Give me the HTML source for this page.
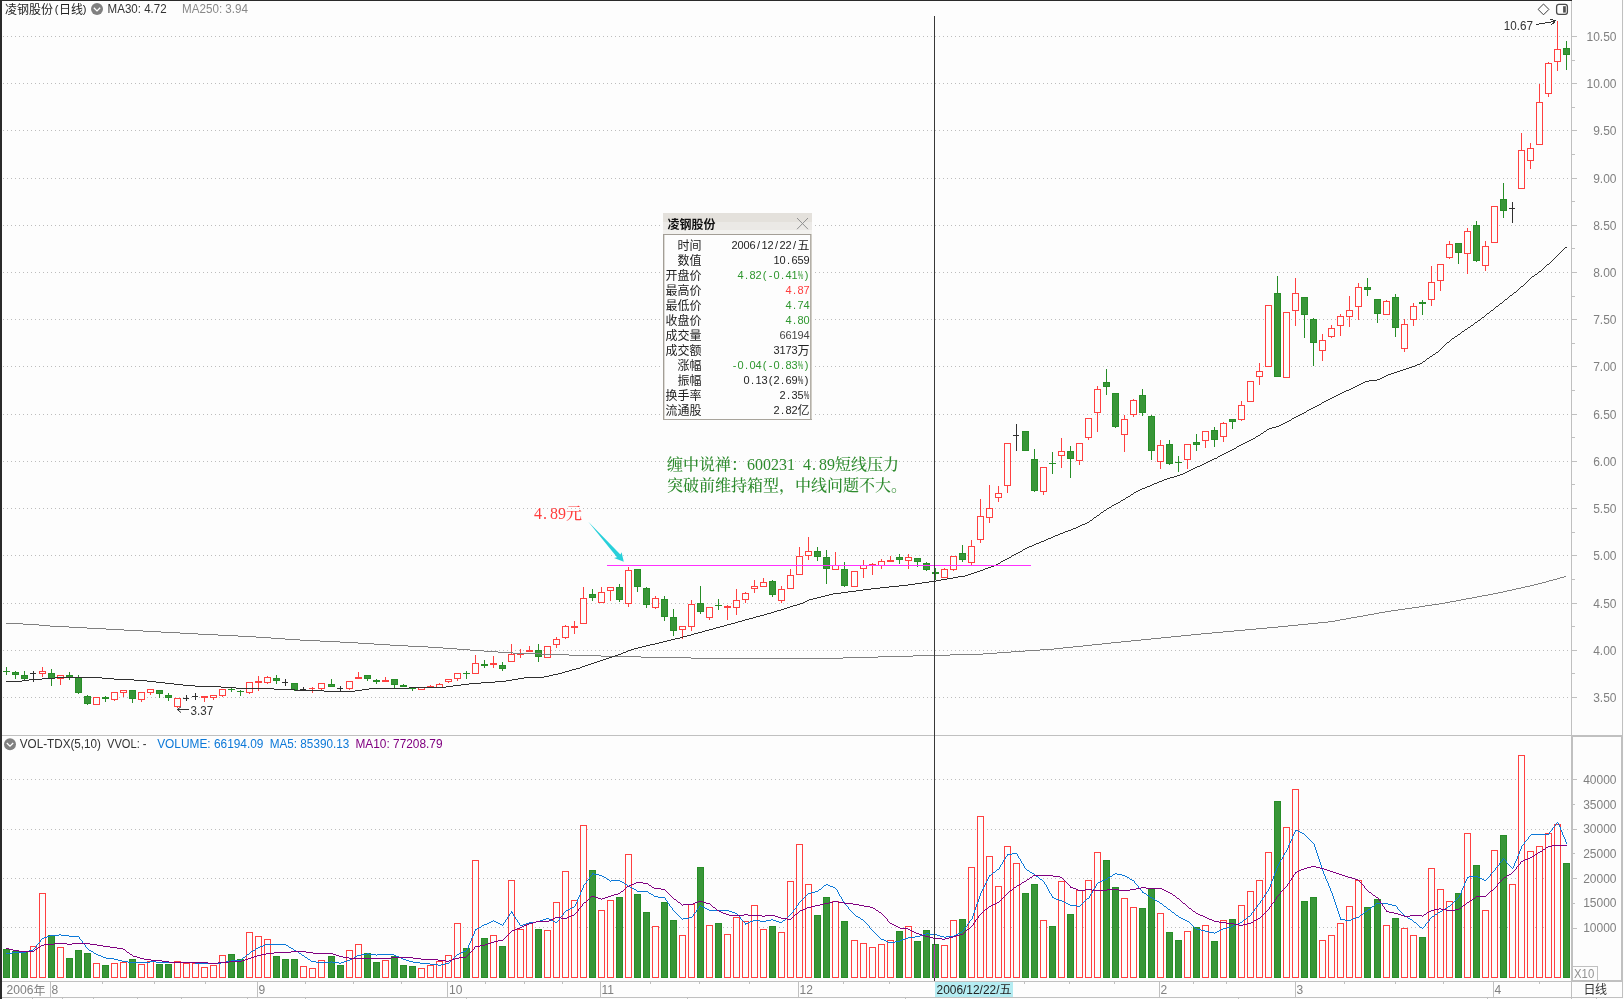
<!DOCTYPE html>
<html lang="zh"><head><meta charset="utf-8"><title>凌钢股份(日线)</title>
<style>html,body{margin:0;padding:0;background:#fdfdfd;overflow:hidden}svg{display:block;will-change:transform}</style></head>
<body>
<svg width="1624" height="999" viewBox="0 0 1624 999" style="display:block">
<rect width="1624" height="999" fill="#fdfdfd"/>
<g shape-rendering="crispEdges">
<g stroke="#bdbdbd" stroke-width="1" stroke-dasharray="1 3">
<line x1="3" x2="1571" y1="697.5" y2="697.5"/>
<line x1="3" x2="1571" y1="650.5" y2="650.5"/>
<line x1="3" x2="1571" y1="603.5" y2="603.5"/>
<line x1="3" x2="1571" y1="555.5" y2="555.5"/>
<line x1="3" x2="1571" y1="508.5" y2="508.5"/>
<line x1="3" x2="1571" y1="461.5" y2="461.5"/>
<line x1="3" x2="1571" y1="414.5" y2="414.5"/>
<line x1="3" x2="1571" y1="366.5" y2="366.5"/>
<line x1="3" x2="1571" y1="319.5" y2="319.5"/>
<line x1="3" x2="1571" y1="272.5" y2="272.5"/>
<line x1="3" x2="1571" y1="225.5" y2="225.5"/>
<line x1="3" x2="1571" y1="178.5" y2="178.5"/>
<line x1="3" x2="1571" y1="130.5" y2="130.5"/>
<line x1="3" x2="1571" y1="83.5" y2="83.5"/>
<line x1="3" x2="1571" y1="36.5" y2="36.5"/>
<line x1="3" x2="1571" y1="779.5" y2="779.5"/>
<line x1="3" x2="1571" y1="829.5" y2="829.5"/>
<line x1="3" x2="1571" y1="878.5" y2="878.5"/>
<line x1="3" x2="1571" y1="927.5" y2="927.5"/>
</g>
<g fill="#c0c0c0">
<rect x="1571" y="1" width="1" height="735"/>
<rect x="1571" y="735" width="2" height="247"/>
<rect x="2" y="735" width="1570" height="1"/>
<rect x="1572" y="735" width="51" height="2"/>
<rect x="1622" y="0" width="1" height="735"/>
<rect x="1621" y="735" width="2" height="247"/>
<rect x="2" y="981" width="1621" height="1"/>
<rect x="1571" y="980" width="52" height="1"/>
<rect x="2" y="997" width="1621" height="1"/>
<rect x="1622" y="982" width="1" height="16"/>
<rect x="1572" y="697" width="5" height="1"/>
<rect x="1572" y="673" width="3" height="1"/>
<rect x="1572" y="650" width="5" height="1"/>
<rect x="1572" y="626" width="3" height="1"/>
<rect x="1572" y="603" width="5" height="1"/>
<rect x="1572" y="579" width="3" height="1"/>
<rect x="1572" y="555" width="5" height="1"/>
<rect x="1572" y="532" width="3" height="1"/>
<rect x="1572" y="508" width="5" height="1"/>
<rect x="1572" y="484" width="3" height="1"/>
<rect x="1572" y="461" width="5" height="1"/>
<rect x="1572" y="437" width="3" height="1"/>
<rect x="1572" y="414" width="5" height="1"/>
<rect x="1572" y="390" width="3" height="1"/>
<rect x="1572" y="366" width="5" height="1"/>
<rect x="1572" y="343" width="3" height="1"/>
<rect x="1572" y="319" width="5" height="1"/>
<rect x="1572" y="296" width="3" height="1"/>
<rect x="1572" y="272" width="5" height="1"/>
<rect x="1572" y="248" width="3" height="1"/>
<rect x="1572" y="225" width="5" height="1"/>
<rect x="1572" y="201" width="3" height="1"/>
<rect x="1572" y="178" width="5" height="1"/>
<rect x="1572" y="154" width="3" height="1"/>
<rect x="1572" y="130" width="5" height="1"/>
<rect x="1572" y="107" width="3" height="1"/>
<rect x="1572" y="83" width="5" height="1"/>
<rect x="1572" y="60" width="3" height="1"/>
<rect x="1572" y="36" width="5" height="1"/>
<rect x="1573" y="928" width="4" height="1"/>
<rect x="1573" y="903" width="2" height="1"/>
<rect x="1573" y="878" width="4" height="1"/>
<rect x="1573" y="853" width="2" height="1"/>
<rect x="1573" y="829" width="4" height="1"/>
<rect x="1573" y="804" width="2" height="1"/>
<rect x="1573" y="779" width="4" height="1"/>
</g>
<rect x="0" y="0" width="1572" height="1" fill="#2a2a2a"/>
<rect x="0" y="0" width="2" height="999" fill="#2a2a2a"/>
</g>
<g font-family="'Liberation Sans', sans-serif" font-size="12" fill="#808080" text-anchor="end">
<text x="1616.5" y="701.8">3.50</text>
<text x="1616.5" y="654.8">4.00</text>
<text x="1616.5" y="607.8">4.50</text>
<text x="1616.5" y="559.8">5.00</text>
<text x="1616.5" y="512.8">5.50</text>
<text x="1616.5" y="465.8">6.00</text>
<text x="1616.5" y="418.8">6.50</text>
<text x="1616.5" y="370.8">7.00</text>
<text x="1616.5" y="323.8">7.50</text>
<text x="1616.5" y="276.8">8.00</text>
<text x="1616.5" y="229.8">8.50</text>
<text x="1616.5" y="182.8">9.00</text>
<text x="1616.5" y="134.8">9.50</text>
<text x="1616.5" y="87.8">10.00</text>
<text x="1616.5" y="40.8">10.50</text>
<text x="1616.5" y="932.2">10000</text>
<text x="1616.5" y="907.4">15000</text>
<text x="1616.5" y="882.7">20000</text>
<text x="1616.5" y="858.0">25000</text>
<text x="1616.5" y="833.3">30000</text>
<text x="1616.5" y="808.6">35000</text>
<text x="1616.5" y="783.8">40000</text>
</g>
<g shape-rendering="crispEdges">
<rect x="6" y="667" width="1" height="8" fill="#278d27"/>
<rect x="3" y="671" width="7" height="1" fill="#278d27"/>
<rect x="15" y="671" width="1" height="8" fill="#278d27"/>
<rect x="12.5" y="672.5" width="6" height="2" fill="#389638" stroke="#278d27" stroke-width="1"/>
<rect x="24" y="671" width="1" height="9" fill="#278d27"/>
<rect x="21.5" y="675.5" width="6" height="3" fill="#389638" stroke="#278d27" stroke-width="1"/>
<rect x="33" y="671" width="1" height="11" fill="#303030"/>
<rect x="30" y="673" width="6" height="1" fill="#303030"/>
<rect x="42" y="667" width="1" height="4" fill="#ff4040"/>
<rect x="42" y="674" width="1" height="3" fill="#ff4040"/>
<rect x="39.5" y="671.5" width="6" height="2" fill="#fdfdfd" stroke="#ff4040" stroke-width="1"/>
<rect x="51" y="669" width="1" height="17" fill="#278d27"/>
<rect x="48.5" y="673.5" width="6" height="5" fill="#389638" stroke="#278d27" stroke-width="1"/>
<rect x="60" y="679" width="1" height="6" fill="#ff4040"/>
<rect x="57.5" y="675.5" width="6" height="3" fill="#fdfdfd" stroke="#ff4040" stroke-width="1"/>
<rect x="69" y="672" width="1" height="8" fill="#278d27"/>
<rect x="66.5" y="675.5" width="6" height="2" fill="#389638" stroke="#278d27" stroke-width="1"/>
<rect x="78" y="675" width="1" height="19" fill="#278d27"/>
<rect x="75.5" y="677.5" width="6" height="15" fill="#389638" stroke="#278d27" stroke-width="1"/>
<rect x="87" y="695" width="1" height="10" fill="#278d27"/>
<rect x="84.5" y="696.5" width="6" height="7" fill="#389638" stroke="#278d27" stroke-width="1"/>
<rect x="93.5" y="697.5" width="6" height="7" fill="#fdfdfd" stroke="#ff4040" stroke-width="1"/>
<rect x="105" y="696" width="1" height="6" fill="#278d27"/>
<rect x="102" y="697" width="7" height="2" fill="#278d27"/>
<rect x="114" y="700" width="1" height="1" fill="#ff4040"/>
<rect x="111.5" y="692.5" width="6" height="7" fill="#fdfdfd" stroke="#ff4040" stroke-width="1"/>
<rect x="123" y="693" width="1" height="4" fill="#ff4040"/>
<rect x="120.5" y="690.5" width="6" height="2" fill="#fdfdfd" stroke="#ff4040" stroke-width="1"/>
<rect x="132" y="690" width="1" height="13" fill="#278d27"/>
<rect x="129.5" y="690.5" width="6" height="8" fill="#389638" stroke="#278d27" stroke-width="1"/>
<rect x="141" y="700" width="1" height="2" fill="#ff4040"/>
<rect x="138.5" y="692.5" width="6" height="7" fill="#fdfdfd" stroke="#ff4040" stroke-width="1"/>
<rect x="150" y="693" width="1" height="2" fill="#ff4040"/>
<rect x="147.5" y="689.5" width="6" height="3" fill="#fdfdfd" stroke="#ff4040" stroke-width="1"/>
<rect x="159" y="690" width="1" height="8" fill="#278d27"/>
<rect x="156.5" y="690.5" width="6" height="3" fill="#389638" stroke="#278d27" stroke-width="1"/>
<rect x="168" y="693" width="1" height="8" fill="#278d27"/>
<rect x="165.5" y="695.5" width="6" height="2" fill="#389638" stroke="#278d27" stroke-width="1"/>
<rect x="177" y="707" width="1" height="1" fill="#ff4040"/>
<rect x="174.5" y="698.5" width="6" height="8" fill="#fdfdfd" stroke="#ff4040" stroke-width="1"/>
<rect x="186" y="695" width="1" height="6" fill="#303030"/>
<rect x="183" y="698" width="6" height="1" fill="#303030"/>
<rect x="195" y="693" width="1" height="7" fill="#303030"/>
<rect x="192" y="696" width="6" height="1" fill="#303030"/>
<rect x="204" y="698" width="1" height="4" fill="#ff4040"/>
<rect x="201" y="696" width="7" height="2" fill="#ff4040"/>
<rect x="213" y="698" width="1" height="2" fill="#ff4040"/>
<rect x="210.5" y="695.5" width="6" height="2" fill="#fdfdfd" stroke="#ff4040" stroke-width="1"/>
<rect x="222" y="696" width="1" height="1" fill="#ff4040"/>
<rect x="219.5" y="689.5" width="6" height="6" fill="#fdfdfd" stroke="#ff4040" stroke-width="1"/>
<rect x="231" y="687" width="1" height="5" fill="#278d27"/>
<rect x="228" y="689" width="7" height="1" fill="#278d27"/>
<rect x="240" y="690" width="1" height="6" fill="#278d27"/>
<rect x="237" y="691" width="7" height="1" fill="#278d27"/>
<rect x="249" y="693" width="1" height="1" fill="#ff4040"/>
<rect x="246.5" y="682.5" width="6" height="10" fill="#fdfdfd" stroke="#ff4040" stroke-width="1"/>
<rect x="258" y="676" width="1" height="5" fill="#ff4040"/>
<rect x="258" y="683" width="1" height="8" fill="#ff4040"/>
<rect x="255" y="681" width="7" height="2" fill="#ff4040"/>
<rect x="267" y="676" width="1" height="1" fill="#ff4040"/>
<rect x="267" y="683" width="1" height="1" fill="#ff4040"/>
<rect x="264.5" y="677.5" width="6" height="5" fill="#fdfdfd" stroke="#ff4040" stroke-width="1"/>
<rect x="276" y="675" width="1" height="9" fill="#278d27"/>
<rect x="273.5" y="678.5" width="6" height="2" fill="#389638" stroke="#278d27" stroke-width="1"/>
<rect x="285" y="679" width="1" height="7" fill="#303030"/>
<rect x="282" y="682" width="6" height="1" fill="#303030"/>
<rect x="294" y="683" width="1" height="8" fill="#278d27"/>
<rect x="291.5" y="683.5" width="6" height="6" fill="#389638" stroke="#278d27" stroke-width="1"/>
<rect x="303" y="687" width="1" height="3" fill="#303030"/>
<rect x="300" y="689" width="6" height="1" fill="#303030"/>
<rect x="312" y="687" width="1" height="6" fill="#ff4040"/>
<rect x="309" y="688" width="6" height="1" fill="#ff4040"/>
<rect x="321" y="689" width="1" height="1" fill="#ff4040"/>
<rect x="318.5" y="683.5" width="6" height="5" fill="#fdfdfd" stroke="#ff4040" stroke-width="1"/>
<rect x="331" y="679" width="1" height="8" fill="#278d27"/>
<rect x="328.5" y="684.5" width="6" height="2" fill="#389638" stroke="#278d27" stroke-width="1"/>
<rect x="340" y="686" width="1" height="6" fill="#303030"/>
<rect x="337" y="688" width="6" height="1" fill="#303030"/>
<rect x="349" y="689" width="1" height="1" fill="#ff4040"/>
<rect x="346.5" y="681.5" width="6" height="7" fill="#fdfdfd" stroke="#ff4040" stroke-width="1"/>
<rect x="358" y="672" width="1" height="5" fill="#ff4040"/>
<rect x="355" y="677" width="7" height="2" fill="#ff4040"/>
<rect x="367" y="675" width="1" height="6" fill="#278d27"/>
<rect x="364.5" y="675.5" width="6" height="3" fill="#389638" stroke="#278d27" stroke-width="1"/>
<rect x="376" y="679" width="1" height="5" fill="#278d27"/>
<rect x="373" y="680" width="7" height="2" fill="#278d27"/>
<rect x="385" y="677" width="1" height="3" fill="#ff4040"/>
<rect x="382" y="680" width="7" height="2" fill="#ff4040"/>
<rect x="394" y="679" width="1" height="9" fill="#278d27"/>
<rect x="391.5" y="679.5" width="6" height="5" fill="#389638" stroke="#278d27" stroke-width="1"/>
<rect x="403" y="684" width="1" height="3" fill="#278d27"/>
<rect x="400" y="685" width="7" height="2" fill="#278d27"/>
<rect x="412" y="687" width="1" height="4" fill="#278d27"/>
<rect x="409" y="687" width="7" height="2" fill="#278d27"/>
<rect x="418.5" y="687.5" width="6" height="2" fill="#fdfdfd" stroke="#ff4040" stroke-width="1"/>
<rect x="430" y="685" width="1" height="1" fill="#ff4040"/>
<rect x="427" y="686" width="7" height="2" fill="#ff4040"/>
<rect x="439" y="683" width="1" height="1" fill="#ff4040"/>
<rect x="436.5" y="684.5" width="6" height="3" fill="#fdfdfd" stroke="#ff4040" stroke-width="1"/>
<rect x="448" y="682" width="1" height="1" fill="#ff4040"/>
<rect x="445.5" y="679.5" width="6" height="2" fill="#fdfdfd" stroke="#ff4040" stroke-width="1"/>
<rect x="457" y="679" width="1" height="2" fill="#ff4040"/>
<rect x="454.5" y="673.5" width="6" height="5" fill="#fdfdfd" stroke="#ff4040" stroke-width="1"/>
<rect x="466" y="671" width="1" height="8" fill="#278d27"/>
<rect x="463" y="673" width="7" height="1" fill="#278d27"/>
<rect x="475" y="655" width="1" height="8" fill="#ff4040"/>
<rect x="472.5" y="663.5" width="6" height="10" fill="#fdfdfd" stroke="#ff4040" stroke-width="1"/>
<rect x="484" y="660" width="1" height="8" fill="#278d27"/>
<rect x="481" y="664" width="7" height="2" fill="#278d27"/>
<rect x="493" y="656" width="1" height="7" fill="#ff4040"/>
<rect x="493" y="665" width="1" height="3" fill="#ff4040"/>
<rect x="490" y="663" width="7" height="2" fill="#ff4040"/>
<rect x="502" y="662" width="1" height="9" fill="#278d27"/>
<rect x="499.5" y="665.5" width="6" height="3" fill="#389638" stroke="#278d27" stroke-width="1"/>
<rect x="511" y="644" width="1" height="10" fill="#ff4040"/>
<rect x="508.5" y="654.5" width="6" height="7" fill="#fdfdfd" stroke="#ff4040" stroke-width="1"/>
<rect x="520" y="649" width="1" height="4" fill="#ff4040"/>
<rect x="520" y="655" width="1" height="3" fill="#ff4040"/>
<rect x="517" y="653" width="7" height="2" fill="#ff4040"/>
<rect x="529" y="646" width="1" height="4" fill="#ff4040"/>
<rect x="526" y="650" width="7" height="2" fill="#ff4040"/>
<rect x="538" y="644" width="1" height="18" fill="#278d27"/>
<rect x="535.5" y="650.5" width="6" height="6" fill="#389638" stroke="#278d27" stroke-width="1"/>
<rect x="544.5" y="646.5" width="6" height="11" fill="#fdfdfd" stroke="#ff4040" stroke-width="1"/>
<rect x="556" y="637" width="1" height="2" fill="#ff4040"/>
<rect x="556" y="645" width="1" height="3" fill="#ff4040"/>
<rect x="553.5" y="639.5" width="6" height="5" fill="#fdfdfd" stroke="#ff4040" stroke-width="1"/>
<rect x="565" y="625" width="1" height="1" fill="#ff4040"/>
<rect x="565" y="638" width="1" height="1" fill="#ff4040"/>
<rect x="562.5" y="626.5" width="6" height="11" fill="#fdfdfd" stroke="#ff4040" stroke-width="1"/>
<rect x="574" y="621" width="1" height="5" fill="#ff4040"/>
<rect x="574" y="628" width="1" height="6" fill="#ff4040"/>
<rect x="571" y="626" width="7" height="2" fill="#ff4040"/>
<rect x="583" y="587" width="1" height="11" fill="#ff4040"/>
<rect x="580.5" y="598.5" width="6" height="25" fill="#fdfdfd" stroke="#ff4040" stroke-width="1"/>
<rect x="592" y="589" width="1" height="12" fill="#278d27"/>
<rect x="589.5" y="594.5" width="6" height="3" fill="#389638" stroke="#278d27" stroke-width="1"/>
<rect x="601" y="587" width="1" height="5" fill="#ff4040"/>
<rect x="598.5" y="592.5" width="6" height="10" fill="#fdfdfd" stroke="#ff4040" stroke-width="1"/>
<rect x="610" y="591" width="1" height="10" fill="#ff4040"/>
<rect x="607.5" y="587.5" width="6" height="3" fill="#fdfdfd" stroke="#ff4040" stroke-width="1"/>
<rect x="619" y="584" width="1" height="18" fill="#278d27"/>
<rect x="616.5" y="587.5" width="6" height="12" fill="#389638" stroke="#278d27" stroke-width="1"/>
<rect x="628" y="567" width="1" height="3" fill="#ff4040"/>
<rect x="628" y="604" width="1" height="3" fill="#ff4040"/>
<rect x="625.5" y="570.5" width="6" height="33" fill="#fdfdfd" stroke="#ff4040" stroke-width="1"/>
<rect x="637" y="569" width="1" height="23" fill="#278d27"/>
<rect x="634.5" y="569.5" width="6" height="17" fill="#389638" stroke="#278d27" stroke-width="1"/>
<rect x="646" y="587" width="1" height="21" fill="#278d27"/>
<rect x="643.5" y="588.5" width="6" height="16" fill="#389638" stroke="#278d27" stroke-width="1"/>
<rect x="655" y="596" width="1" height="2" fill="#ff4040"/>
<rect x="655" y="608" width="1" height="1" fill="#ff4040"/>
<rect x="652.5" y="598.5" width="6" height="9" fill="#fdfdfd" stroke="#ff4040" stroke-width="1"/>
<rect x="664" y="596" width="1" height="25" fill="#278d27"/>
<rect x="661.5" y="599.5" width="6" height="17" fill="#389638" stroke="#278d27" stroke-width="1"/>
<rect x="673" y="609" width="1" height="27" fill="#278d27"/>
<rect x="670.5" y="617.5" width="6" height="13" fill="#389638" stroke="#278d27" stroke-width="1"/>
<rect x="682" y="630" width="1" height="9" fill="#ff4040"/>
<rect x="679.5" y="626.5" width="6" height="3" fill="#fdfdfd" stroke="#ff4040" stroke-width="1"/>
<rect x="691" y="600" width="1" height="4" fill="#ff4040"/>
<rect x="691" y="627" width="1" height="4" fill="#ff4040"/>
<rect x="688.5" y="604.5" width="6" height="22" fill="#fdfdfd" stroke="#ff4040" stroke-width="1"/>
<rect x="700" y="586" width="1" height="28" fill="#278d27"/>
<rect x="697.5" y="603.5" width="6" height="8" fill="#389638" stroke="#278d27" stroke-width="1"/>
<rect x="709" y="618" width="1" height="2" fill="#ff4040"/>
<rect x="706.5" y="607.5" width="6" height="10" fill="#fdfdfd" stroke="#ff4040" stroke-width="1"/>
<rect x="718" y="599" width="1" height="11" fill="#278d27"/>
<rect x="715" y="605" width="7" height="1" fill="#278d27"/>
<rect x="727" y="605" width="1" height="1" fill="#ff4040"/>
<rect x="727" y="608" width="1" height="12" fill="#ff4040"/>
<rect x="724" y="606" width="7" height="2" fill="#ff4040"/>
<rect x="736" y="589" width="1" height="11" fill="#ff4040"/>
<rect x="736" y="608" width="1" height="7" fill="#ff4040"/>
<rect x="733.5" y="600.5" width="6" height="7" fill="#fdfdfd" stroke="#ff4040" stroke-width="1"/>
<rect x="745" y="592" width="1" height="1" fill="#ff4040"/>
<rect x="745" y="600" width="1" height="3" fill="#ff4040"/>
<rect x="742.5" y="593.5" width="6" height="6" fill="#fdfdfd" stroke="#ff4040" stroke-width="1"/>
<rect x="754" y="580" width="1" height="6" fill="#ff4040"/>
<rect x="754" y="589" width="1" height="4" fill="#ff4040"/>
<rect x="751.5" y="586.5" width="6" height="2" fill="#fdfdfd" stroke="#ff4040" stroke-width="1"/>
<rect x="763" y="578" width="1" height="4" fill="#ff4040"/>
<rect x="760.5" y="582.5" width="6" height="4" fill="#fdfdfd" stroke="#ff4040" stroke-width="1"/>
<rect x="772" y="580" width="1" height="17" fill="#278d27"/>
<rect x="769.5" y="581.5" width="6" height="13" fill="#389638" stroke="#278d27" stroke-width="1"/>
<rect x="781" y="586" width="1" height="3" fill="#ff4040"/>
<rect x="781" y="601" width="1" height="2" fill="#ff4040"/>
<rect x="778.5" y="589.5" width="6" height="11" fill="#fdfdfd" stroke="#ff4040" stroke-width="1"/>
<rect x="790" y="569" width="1" height="6" fill="#ff4040"/>
<rect x="787.5" y="575.5" width="6" height="13" fill="#fdfdfd" stroke="#ff4040" stroke-width="1"/>
<rect x="799" y="547" width="1" height="9" fill="#ff4040"/>
<rect x="796.5" y="556.5" width="6" height="18" fill="#fdfdfd" stroke="#ff4040" stroke-width="1"/>
<rect x="808" y="537" width="1" height="14" fill="#ff4040"/>
<rect x="808" y="556" width="1" height="4" fill="#ff4040"/>
<rect x="805.5" y="551.5" width="6" height="4" fill="#fdfdfd" stroke="#ff4040" stroke-width="1"/>
<rect x="817" y="547" width="1" height="14" fill="#278d27"/>
<rect x="814.5" y="551.5" width="6" height="5" fill="#389638" stroke="#278d27" stroke-width="1"/>
<rect x="826" y="550" width="1" height="34" fill="#278d27"/>
<rect x="823.5" y="557.5" width="6" height="11" fill="#389638" stroke="#278d27" stroke-width="1"/>
<rect x="835" y="552" width="1" height="13" fill="#ff4040"/>
<rect x="832.5" y="565.5" width="6" height="4" fill="#fdfdfd" stroke="#ff4040" stroke-width="1"/>
<rect x="844" y="562" width="1" height="25" fill="#278d27"/>
<rect x="841.5" y="569.5" width="6" height="16" fill="#389638" stroke="#278d27" stroke-width="1"/>
<rect x="851.5" y="571.5" width="6" height="15" fill="#fdfdfd" stroke="#ff4040" stroke-width="1"/>
<rect x="863" y="560" width="1" height="5" fill="#ff4040"/>
<rect x="863" y="569" width="1" height="9" fill="#ff4040"/>
<rect x="860.5" y="565.5" width="6" height="3" fill="#fdfdfd" stroke="#ff4040" stroke-width="1"/>
<rect x="872" y="563" width="1" height="1" fill="#ff4040"/>
<rect x="872" y="566" width="1" height="9" fill="#ff4040"/>
<rect x="869" y="564" width="7" height="2" fill="#ff4040"/>
<rect x="881" y="559" width="1" height="2" fill="#ff4040"/>
<rect x="881" y="566" width="1" height="3" fill="#ff4040"/>
<rect x="878.5" y="561.5" width="6" height="4" fill="#fdfdfd" stroke="#ff4040" stroke-width="1"/>
<rect x="890" y="556" width="1" height="4" fill="#ff4040"/>
<rect x="887" y="560" width="7" height="2" fill="#ff4040"/>
<rect x="899" y="554" width="1" height="10" fill="#278d27"/>
<rect x="896.5" y="557.5" width="6" height="2" fill="#389638" stroke="#278d27" stroke-width="1"/>
<rect x="908" y="554" width="1" height="3" fill="#ff4040"/>
<rect x="908" y="561" width="1" height="8" fill="#ff4040"/>
<rect x="905.5" y="557.5" width="6" height="3" fill="#fdfdfd" stroke="#ff4040" stroke-width="1"/>
<rect x="917" y="558" width="1" height="9" fill="#278d27"/>
<rect x="914.5" y="558.5" width="6" height="3" fill="#389638" stroke="#278d27" stroke-width="1"/>
<rect x="926" y="562" width="1" height="9" fill="#278d27"/>
<rect x="923.5" y="563.5" width="6" height="6" fill="#389638" stroke="#278d27" stroke-width="1"/>
<rect x="935" y="568" width="1" height="12" fill="#278d27"/>
<rect x="932" y="572" width="7" height="2" fill="#278d27"/>
<rect x="944" y="568" width="1" height="1" fill="#ff4040"/>
<rect x="941.5" y="569.5" width="6" height="8" fill="#fdfdfd" stroke="#ff4040" stroke-width="1"/>
<rect x="953" y="570" width="1" height="1" fill="#ff4040"/>
<rect x="950.5" y="556.5" width="6" height="13" fill="#fdfdfd" stroke="#ff4040" stroke-width="1"/>
<rect x="962" y="545" width="1" height="17" fill="#278d27"/>
<rect x="959.5" y="553.5" width="6" height="6" fill="#389638" stroke="#278d27" stroke-width="1"/>
<rect x="971" y="540" width="1" height="6" fill="#ff4040"/>
<rect x="971" y="563" width="1" height="2" fill="#ff4040"/>
<rect x="968.5" y="546.5" width="6" height="16" fill="#fdfdfd" stroke="#ff4040" stroke-width="1"/>
<rect x="980" y="499" width="1" height="17" fill="#ff4040"/>
<rect x="980" y="540" width="1" height="3" fill="#ff4040"/>
<rect x="977.5" y="516.5" width="6" height="23" fill="#fdfdfd" stroke="#ff4040" stroke-width="1"/>
<rect x="989" y="485" width="1" height="23" fill="#ff4040"/>
<rect x="989" y="518" width="1" height="5" fill="#ff4040"/>
<rect x="986.5" y="508.5" width="6" height="9" fill="#fdfdfd" stroke="#ff4040" stroke-width="1"/>
<rect x="998" y="486" width="1" height="7" fill="#ff4040"/>
<rect x="998" y="498" width="1" height="4" fill="#ff4040"/>
<rect x="995.5" y="493.5" width="6" height="4" fill="#fdfdfd" stroke="#ff4040" stroke-width="1"/>
<rect x="1007" y="486" width="1" height="7" fill="#ff4040"/>
<rect x="1004.5" y="443.5" width="6" height="42" fill="#fdfdfd" stroke="#ff4040" stroke-width="1"/>
<rect x="1016" y="424" width="1" height="27" fill="#303030"/>
<rect x="1013" y="435" width="6" height="1" fill="#303030"/>
<rect x="1025" y="431" width="1" height="20" fill="#278d27"/>
<rect x="1022.5" y="431.5" width="6" height="19" fill="#389638" stroke="#278d27" stroke-width="1"/>
<rect x="1034" y="449" width="1" height="43" fill="#278d27"/>
<rect x="1031.5" y="459.5" width="6" height="31" fill="#389638" stroke="#278d27" stroke-width="1"/>
<rect x="1043" y="492" width="1" height="3" fill="#ff4040"/>
<rect x="1040.5" y="467.5" width="6" height="24" fill="#fdfdfd" stroke="#ff4040" stroke-width="1"/>
<rect x="1052" y="452" width="1" height="22" fill="#278d27"/>
<rect x="1049" y="463" width="7" height="1" fill="#278d27"/>
<rect x="1061" y="438" width="1" height="13" fill="#ff4040"/>
<rect x="1061" y="456" width="1" height="12" fill="#ff4040"/>
<rect x="1058.5" y="451.5" width="6" height="4" fill="#fdfdfd" stroke="#ff4040" stroke-width="1"/>
<rect x="1070" y="446" width="1" height="32" fill="#278d27"/>
<rect x="1067.5" y="451.5" width="6" height="7" fill="#389638" stroke="#278d27" stroke-width="1"/>
<rect x="1079" y="461" width="1" height="4" fill="#ff4040"/>
<rect x="1076.5" y="443.5" width="6" height="17" fill="#fdfdfd" stroke="#ff4040" stroke-width="1"/>
<rect x="1088" y="438" width="1" height="2" fill="#ff4040"/>
<rect x="1085.5" y="418.5" width="6" height="19" fill="#fdfdfd" stroke="#ff4040" stroke-width="1"/>
<rect x="1097" y="386" width="1" height="3" fill="#ff4040"/>
<rect x="1097" y="413" width="1" height="19" fill="#ff4040"/>
<rect x="1094.5" y="389.5" width="6" height="23" fill="#fdfdfd" stroke="#ff4040" stroke-width="1"/>
<rect x="1106" y="369" width="1" height="26" fill="#278d27"/>
<rect x="1103.5" y="382.5" width="6" height="4" fill="#389638" stroke="#278d27" stroke-width="1"/>
<rect x="1115" y="393" width="1" height="35" fill="#278d27"/>
<rect x="1112.5" y="393.5" width="6" height="33" fill="#389638" stroke="#278d27" stroke-width="1"/>
<rect x="1124" y="415" width="1" height="4" fill="#ff4040"/>
<rect x="1124" y="435" width="1" height="17" fill="#ff4040"/>
<rect x="1121.5" y="419.5" width="6" height="15" fill="#fdfdfd" stroke="#ff4040" stroke-width="1"/>
<rect x="1133" y="399" width="1" height="1" fill="#ff4040"/>
<rect x="1133" y="415" width="1" height="2" fill="#ff4040"/>
<rect x="1130.5" y="400.5" width="6" height="14" fill="#fdfdfd" stroke="#ff4040" stroke-width="1"/>
<rect x="1142" y="389" width="1" height="27" fill="#278d27"/>
<rect x="1139.5" y="395.5" width="6" height="17" fill="#389638" stroke="#278d27" stroke-width="1"/>
<rect x="1151" y="415" width="1" height="45" fill="#278d27"/>
<rect x="1148.5" y="416.5" width="6" height="34" fill="#389638" stroke="#278d27" stroke-width="1"/>
<rect x="1160" y="440" width="1" height="5" fill="#ff4040"/>
<rect x="1160" y="462" width="1" height="7" fill="#ff4040"/>
<rect x="1157.5" y="445.5" width="6" height="16" fill="#fdfdfd" stroke="#ff4040" stroke-width="1"/>
<rect x="1169" y="440" width="1" height="25" fill="#278d27"/>
<rect x="1166.5" y="444.5" width="6" height="19" fill="#389638" stroke="#278d27" stroke-width="1"/>
<rect x="1178" y="456" width="1" height="16" fill="#278d27"/>
<rect x="1175" y="462" width="7" height="1" fill="#278d27"/>
<rect x="1187" y="460" width="1" height="9" fill="#ff4040"/>
<rect x="1184.5" y="444.5" width="6" height="15" fill="#fdfdfd" stroke="#ff4040" stroke-width="1"/>
<rect x="1196" y="434" width="1" height="17" fill="#278d27"/>
<rect x="1193.5" y="442.5" width="6" height="2" fill="#389638" stroke="#278d27" stroke-width="1"/>
<rect x="1205" y="441" width="1" height="7" fill="#ff4040"/>
<rect x="1202.5" y="431.5" width="6" height="9" fill="#fdfdfd" stroke="#ff4040" stroke-width="1"/>
<rect x="1214" y="427" width="1" height="20" fill="#278d27"/>
<rect x="1211.5" y="430.5" width="6" height="9" fill="#389638" stroke="#278d27" stroke-width="1"/>
<rect x="1223" y="422" width="1" height="1" fill="#ff4040"/>
<rect x="1223" y="437" width="1" height="5" fill="#ff4040"/>
<rect x="1220.5" y="423.5" width="6" height="13" fill="#fdfdfd" stroke="#ff4040" stroke-width="1"/>
<rect x="1232" y="419" width="1" height="10" fill="#278d27"/>
<rect x="1229.5" y="419.5" width="6" height="2" fill="#389638" stroke="#278d27" stroke-width="1"/>
<rect x="1241" y="401" width="1" height="4" fill="#ff4040"/>
<rect x="1241" y="420" width="1" height="1" fill="#ff4040"/>
<rect x="1238.5" y="405.5" width="6" height="14" fill="#fdfdfd" stroke="#ff4040" stroke-width="1"/>
<rect x="1247.5" y="381.5" width="6" height="20" fill="#fdfdfd" stroke="#ff4040" stroke-width="1"/>
<rect x="1259" y="363" width="1" height="8" fill="#ff4040"/>
<rect x="1259" y="377" width="1" height="8" fill="#ff4040"/>
<rect x="1256.5" y="371.5" width="6" height="5" fill="#fdfdfd" stroke="#ff4040" stroke-width="1"/>
<rect x="1265.5" y="305.5" width="6" height="61" fill="#fdfdfd" stroke="#ff4040" stroke-width="1"/>
<rect x="1277" y="276" width="1" height="101" fill="#278d27"/>
<rect x="1274.5" y="293.5" width="6" height="83" fill="#389638" stroke="#278d27" stroke-width="1"/>
<rect x="1283.5" y="312.5" width="6" height="65" fill="#fdfdfd" stroke="#ff4040" stroke-width="1"/>
<rect x="1295" y="278" width="1" height="15" fill="#ff4040"/>
<rect x="1295" y="311" width="1" height="15" fill="#ff4040"/>
<rect x="1292.5" y="293.5" width="6" height="17" fill="#fdfdfd" stroke="#ff4040" stroke-width="1"/>
<rect x="1304" y="297" width="1" height="41" fill="#278d27"/>
<rect x="1301.5" y="297.5" width="6" height="17" fill="#389638" stroke="#278d27" stroke-width="1"/>
<rect x="1313" y="318" width="1" height="48" fill="#278d27"/>
<rect x="1310.5" y="319.5" width="6" height="23" fill="#389638" stroke="#278d27" stroke-width="1"/>
<rect x="1322" y="334" width="1" height="6" fill="#ff4040"/>
<rect x="1322" y="351" width="1" height="10" fill="#ff4040"/>
<rect x="1319.5" y="340.5" width="6" height="10" fill="#fdfdfd" stroke="#ff4040" stroke-width="1"/>
<rect x="1331" y="325" width="1" height="3" fill="#ff4040"/>
<rect x="1331" y="337" width="1" height="1" fill="#ff4040"/>
<rect x="1328.5" y="328.5" width="6" height="8" fill="#fdfdfd" stroke="#ff4040" stroke-width="1"/>
<rect x="1340" y="314" width="1" height="2" fill="#ff4040"/>
<rect x="1340" y="326" width="1" height="10" fill="#ff4040"/>
<rect x="1337.5" y="316.5" width="6" height="9" fill="#fdfdfd" stroke="#ff4040" stroke-width="1"/>
<rect x="1349" y="296" width="1" height="14" fill="#ff4040"/>
<rect x="1349" y="317" width="1" height="10" fill="#ff4040"/>
<rect x="1346.5" y="310.5" width="6" height="6" fill="#fdfdfd" stroke="#ff4040" stroke-width="1"/>
<rect x="1358" y="283" width="1" height="4" fill="#ff4040"/>
<rect x="1358" y="307" width="1" height="13" fill="#ff4040"/>
<rect x="1355.5" y="287.5" width="6" height="19" fill="#fdfdfd" stroke="#ff4040" stroke-width="1"/>
<rect x="1367" y="278" width="1" height="18" fill="#278d27"/>
<rect x="1364.5" y="287.5" width="6" height="2" fill="#389638" stroke="#278d27" stroke-width="1"/>
<rect x="1377" y="299" width="1" height="24" fill="#278d27"/>
<rect x="1374.5" y="299.5" width="6" height="14" fill="#389638" stroke="#278d27" stroke-width="1"/>
<rect x="1386" y="300" width="1" height="1" fill="#ff4040"/>
<rect x="1383.5" y="301.5" width="6" height="13" fill="#fdfdfd" stroke="#ff4040" stroke-width="1"/>
<rect x="1395" y="294" width="1" height="43" fill="#278d27"/>
<rect x="1392.5" y="297.5" width="6" height="30" fill="#389638" stroke="#278d27" stroke-width="1"/>
<rect x="1404" y="319" width="1" height="5" fill="#ff4040"/>
<rect x="1404" y="349" width="1" height="3" fill="#ff4040"/>
<rect x="1401.5" y="324.5" width="6" height="24" fill="#fdfdfd" stroke="#ff4040" stroke-width="1"/>
<rect x="1413" y="303" width="1" height="3" fill="#ff4040"/>
<rect x="1413" y="320" width="1" height="6" fill="#ff4040"/>
<rect x="1410.5" y="306.5" width="6" height="13" fill="#fdfdfd" stroke="#ff4040" stroke-width="1"/>
<rect x="1422" y="300" width="1" height="15" fill="#278d27"/>
<rect x="1419" y="302" width="7" height="2" fill="#278d27"/>
<rect x="1431" y="266" width="1" height="16" fill="#ff4040"/>
<rect x="1431" y="300" width="1" height="6" fill="#ff4040"/>
<rect x="1428.5" y="282.5" width="6" height="17" fill="#fdfdfd" stroke="#ff4040" stroke-width="1"/>
<rect x="1440" y="281" width="1" height="10" fill="#ff4040"/>
<rect x="1437.5" y="264.5" width="6" height="16" fill="#fdfdfd" stroke="#ff4040" stroke-width="1"/>
<rect x="1449" y="241" width="1" height="3" fill="#ff4040"/>
<rect x="1449" y="258" width="1" height="1" fill="#ff4040"/>
<rect x="1446.5" y="244.5" width="6" height="13" fill="#fdfdfd" stroke="#ff4040" stroke-width="1"/>
<rect x="1458" y="243" width="1" height="21" fill="#278d27"/>
<rect x="1455.5" y="243.5" width="6" height="9" fill="#389638" stroke="#278d27" stroke-width="1"/>
<rect x="1467" y="228" width="1" height="3" fill="#ff4040"/>
<rect x="1467" y="254" width="1" height="20" fill="#ff4040"/>
<rect x="1464.5" y="231.5" width="6" height="22" fill="#fdfdfd" stroke="#ff4040" stroke-width="1"/>
<rect x="1476" y="221" width="1" height="41" fill="#278d27"/>
<rect x="1473.5" y="225.5" width="6" height="35" fill="#389638" stroke="#278d27" stroke-width="1"/>
<rect x="1485" y="241" width="1" height="5" fill="#ff4040"/>
<rect x="1485" y="266" width="1" height="5" fill="#ff4040"/>
<rect x="1482.5" y="246.5" width="6" height="19" fill="#fdfdfd" stroke="#ff4040" stroke-width="1"/>
<rect x="1491.5" y="206.5" width="6" height="36" fill="#fdfdfd" stroke="#ff4040" stroke-width="1"/>
<rect x="1503" y="183" width="1" height="35" fill="#278d27"/>
<rect x="1500.5" y="199.5" width="6" height="11" fill="#389638" stroke="#278d27" stroke-width="1"/>
<rect x="1512" y="202" width="1" height="21" fill="#303030"/>
<rect x="1509" y="208" width="6" height="1" fill="#303030"/>
<rect x="1521" y="133" width="1" height="17" fill="#ff4040"/>
<rect x="1518.5" y="150.5" width="6" height="38" fill="#fdfdfd" stroke="#ff4040" stroke-width="1"/>
<rect x="1530" y="143" width="1" height="5" fill="#ff4040"/>
<rect x="1530" y="161" width="1" height="8" fill="#ff4040"/>
<rect x="1527.5" y="148.5" width="6" height="12" fill="#fdfdfd" stroke="#ff4040" stroke-width="1"/>
<rect x="1539" y="84" width="1" height="18" fill="#ff4040"/>
<rect x="1536.5" y="102.5" width="6" height="42" fill="#fdfdfd" stroke="#ff4040" stroke-width="1"/>
<rect x="1548" y="62" width="1" height="1" fill="#ff4040"/>
<rect x="1548" y="94" width="1" height="3" fill="#ff4040"/>
<rect x="1545.5" y="63.5" width="6" height="30" fill="#fdfdfd" stroke="#ff4040" stroke-width="1"/>
<rect x="1557" y="21" width="1" height="28" fill="#ff4040"/>
<rect x="1557" y="62" width="1" height="9" fill="#ff4040"/>
<rect x="1554.5" y="49.5" width="6" height="12" fill="#fdfdfd" stroke="#ff4040" stroke-width="1"/>
<rect x="1566" y="41" width="1" height="29" fill="#278d27"/>
<rect x="1563.5" y="48.5" width="6" height="6" fill="#389638" stroke="#278d27" stroke-width="1"/>
</g>
<path d="M6 623.5h17M23 624.5h16M39 625.5h11M50 626.5h19M69 627.5h18M87 628.5h19M106 629.5h18M124 630.5h19M143 631.5h18M161 632.5h19M180 633.5h18M198 634.5h20M218 635.5h20M238 636.5h18M256 637.5h15M271 638.5h14M285 639.5h15M300 640.5h20M320 641.5h20M340 642.5h18M358 643.5h16M374 644.5h16M390 645.5h18M408 646.5h20M428 647.5h15M443 648.5h14M457 649.5h13M470 650.5h14M484 651.5h14M498 652.5h15M513 653.5h28M541 654.5h28M569 655.5h32M601 656.5h40M641 657.5h50M691 658.5h152M843 657.5h35M878 656.5h35M913 655.5h37M950 654.5h33M983 653.5h14M997 652.5h14M1011 651.5h14M1025 650.5h15M1040 649.5h14M1054 648.5h9M1063 647.5h10M1073 646.5h10M1083 645.5h9M1092 644.5h10M1102 643.5h9M1111 642.5h10M1121 641.5h10M1131 640.5h10M1141 639.5h10M1151 638.5h10M1161 637.5h10M1171 636.5h10M1181 635.5h10M1191 634.5h10M1201 633.5h11M1212 632.5h11M1223 631.5h11M1234 630.5h11M1245 629.5h11M1256 628.5h11M1267 627.5h11M1278 626.5h10M1288 625.5h10M1298 624.5h10M1308 623.5h10M1318 622.5h10M1328 621.5h7M1335 620.5h5M1340 619.5h6M1346 618.5h5M1351 617.5h6M1357 616.5h6M1363 615.5h5M1368 614.5h6M1374 613.5h5M1379 612.5h6M1385 611.5h6M1391 610.5h7M1398 609.5h7M1405 608.5h7M1412 607.5h7M1419 606.5h6M1425 605.5h7M1432 604.5h7M1439 603.5h6M1445 602.5h5M1450 601.5h6M1456 600.5h5M1461 599.5h5M1466 598.5h6M1472 597.5h5M1477 596.5h5M1482 595.5h6M1488 594.5h5M1493 593.5h5M1498 592.5h5M1503 591.5h4M1507 590.5h5M1512 589.5h4M1516 588.5h5M1521 587.5h4M1525 586.5h5M1530 585.5h4M1534 584.5h4M1538 583.5h4M1542 582.5h4M1546 581.5h3M1549 580.5h4M1553 579.5h4M1557 578.5h3M1560 577.5h4M1564 576.5h2" fill="none" stroke="#808080" stroke-width="1" shape-rendering="crispEdges"/>
<path d="M6 681.5h16M22 680.5h7M29 679.5h13M42 678.5h13M55 677.5h47M102 678.5h12M114 679.5h20M134 680.5h13M147 681.5h9M156 682.5h9M165 683.5h9M174 684.5h9M183 685.5h12M195 686.5h26M221 687.5h15M236 688.5h38M274 689.5h21M295 690.5h29M324 691.5h31M355 690.5h7M362 689.5h7M369 688.5h40M409 687.5h37M446 686.5h7M453 685.5h8M461 684.5h8M469 683.5h12M481 682.5h14M495 681.5h11M506 680.5h6M512 679.5h6M518 678.5h6M524 677.5h20M544 676.5h5M549 675.5h4M553 674.5h5M558 673.5h4M562 672.5h3M565 671.5h4M569 670.5h3M572 669.5h4M576 668.5h4M580 667.5h2M582 666.5h3M585 665.5h3M588 664.5h3M591 663.5h3M594 662.5h3M597 661.5h3M600 660.5h3M603 659.5h3M606 658.5h3M609 657.5h3M612 656.5h3M615 655.5h3M618 654.5h3M621 653.5h2M623 652.5h3M626 651.5h2M628 650.5h3M631 649.5h3M634 648.5h4M638 647.5h4M642 646.5h4M646 645.5h4M650 644.5h5M655 643.5h4M659 642.5h4M663 641.5h4M667 640.5h4M671 639.5h4M675 638.5h5M680 637.5h3M683 636.5h4M687 635.5h4M691 634.5h3M694 633.5h4M698 632.5h4M702 631.5h3M705 630.5h4M709 629.5h4M713 628.5h3M716 627.5h4M720 626.5h4M724 625.5h3M727 624.5h4M731 623.5h4M735 622.5h3M738 621.5h4M742 620.5h3M745 619.5h4M749 618.5h4M753 617.5h3M756 616.5h4M760 615.5h4M764 614.5h3M767 613.5h4M771 612.5h3M774 611.5h3M777 610.5h4M781 609.5h3M784 608.5h3M787 607.5h3M790 606.5h3M793 605.5h4M797 604.5h3M800 603.5h3M803 602.5h2M805 601.5h2M807 600.5h2M809 599.5h4M813 598.5h4M817 597.5h4M821 596.5h4M825 595.5h4M829 594.5h4M833 593.5h8M841 592.5h7M848 591.5h8M856 590.5h7M863 589.5h8M871 588.5h9M880 587.5h9M889 586.5h10M899 585.5h9M908 584.5h7M915 583.5h7M922 582.5h7M929 581.5h7M936 580.5h5M941 579.5h6M947 578.5h6M953 577.5h5M958 576.5h7M965 575.5h3M968 574.5h3M971 573.5h3M974 572.5h3M977 571.5h3M980 570.5h3M983 569.5h2M985 568.5h3M988 567.5h3M991 566.5h3M994 565.5h2M996 564.5h2M998 563.5h2M1000 562.5h1M1001 561.5h2M1003 560.5h2M1005 559.5h2M1007 558.5h2M1009 557.5h2M1011 556.5h1M1012 555.5h2M1014 554.5h2M1016 553.5h2M1018 552.5h2M1020 551.5h2M1022 550.5h1M1023 549.5h2M1025 548.5h2M1027 547.5h2M1029 546.5h3M1032 545.5h2M1034 544.5h2M1036 543.5h3M1039 542.5h2M1041 541.5h3M1044 540.5h2M1046 539.5h2M1048 538.5h3M1051 537.5h2M1053 536.5h2M1055 535.5h3M1058 534.5h2M1060 533.5h3M1063 532.5h2M1065 531.5h3M1068 530.5h3M1071 529.5h2M1073 528.5h3M1076 527.5h2M1078 526.5h2M1080 525.5h2M1082 524.5h3M1085 523.5h2M1087 522.5h2M1089 521.5h1M1090 520.5h2M1092 519.5h1M1093 518.5h1M1094 517.5h2M1096 516.5h1M1097 515.5h2M1099 514.5h1M1100 513.5h1M1101 512.5h2M1103 511.5h1M1104 510.5h2M1106 509.5h1M1107 508.5h2M1109 507.5h2M1111 506.5h1M1112 505.5h2M1114 504.5h2M1116 503.5h2M1118 502.5h2M1120 501.5h1M1121 500.5h2M1123 499.5h2M1125 498.5h1M1126 497.5h2M1128 496.5h2M1130 495.5h1M1131 494.5h2M1133 493.5h1M1134 492.5h2M1136 491.5h2M1138 490.5h2M1140 489.5h2M1142 488.5h3M1145 487.5h2M1147 486.5h3M1150 485.5h2M1152 484.5h2M1154 483.5h3M1157 482.5h2M1159 481.5h3M1162 480.5h2M1164 479.5h3M1167 478.5h3M1170 477.5h4M1174 476.5h3M1177 475.5h3M1180 474.5h3M1183 473.5h2M1185 472.5h2M1187 471.5h2M1189 470.5h2M1191 469.5h2M1193 468.5h2M1195 467.5h2M1197 466.5h3M1200 465.5h2M1202 464.5h2M1204 463.5h2M1206 462.5h2M1208 461.5h2M1210 460.5h2M1212 459.5h2M1214 458.5h3M1217 457.5h1M1218 456.5h2M1220 455.5h2M1222 454.5h2M1224 453.5h2M1226 452.5h2M1228 451.5h2M1230 450.5h2M1232 449.5h2M1234 448.5h2M1236 447.5h1M1237 446.5h2M1239 445.5h2M1241 444.5h2M1243 443.5h2M1245 442.5h2M1247 441.5h2M1249 440.5h2M1251 439.5h2M1253 438.5h2M1255 437.5h1M1256 436.5h2M1258 435.5h2M1260 434.5h1M1261 433.5h2M1263 432.5h1M1264 431.5h2M1266 430.5h1M1267 429.5h2M1269 428.5h3M1272 427.5h4M1276 426.5h3M1279 425.5h2M1281 424.5h2M1283 423.5h2M1285 422.5h2M1287 421.5h2M1289 420.5h2M1291 419.5h1M1292 418.5h2M1294 417.5h2M1296 416.5h2M1298 415.5h2M1300 414.5h2M1302 413.5h2M1304 412.5h2M1306 411.5h1M1307 410.5h2M1309 409.5h2M1311 408.5h2M1313 407.5h2M1315 406.5h2M1317 405.5h2M1319 404.5h2M1321 403.5h1M1322 402.5h2M1324 401.5h2M1326 400.5h2M1328 399.5h2M1330 398.5h2M1332 397.5h2M1334 396.5h2M1336 395.5h2M1338 394.5h2M1340 393.5h2M1342 392.5h2M1344 391.5h2M1346 390.5h3M1349 389.5h2M1351 388.5h2M1353 387.5h2M1355 386.5h2M1357 385.5h2M1359 384.5h2M1361 383.5h2M1363 382.5h2M1365 381.5h4M1369 380.5h8M1377 379.5h3M1380 378.5h2M1382 377.5h2M1384 376.5h2M1386 375.5h2M1388 374.5h3M1391 373.5h3M1394 372.5h3M1397 371.5h3M1400 370.5h3M1403 369.5h3M1406 368.5h3M1409 367.5h3M1412 366.5h3M1415 365.5h2M1417 364.5h3M1420 363.5h2M1422 362.5h1M1423 361.5h2M1425 360.5h1M1426 359.5h1M1427 358.5h2M1429 357.5h1M1430 356.5h2M1432 355.5h1M1433 354.5h2M1435 353.5h1M1436 352.5h2M1438 351.5h1M1439 350.5h1M1440 349.5h1M1441 348.5h1M1442 347.5h1M1443 346.5h1M1444 345.5h1M1445 344.5h1M1446 343.5h1M1447 342.5h2M1449 341.5h1M1450 340.5h1M1451 339.5h1M1452 338.5h2M1454 337.5h1M1455 336.5h2M1457 335.5h1M1458 334.5h2M1460 333.5h1M1461 332.5h1M1462 331.5h2M1464 330.5h1M1465 329.5h2M1467 328.5h1M1468 327.5h2M1470 326.5h1M1471 325.5h2M1473 324.5h1M1474 323.5h1M1475 322.5h2M1477 321.5h1M1478 320.5h2M1480 319.5h1M1481 318.5h1M1482 317.5h2M1484 316.5h1M1485 315.5h1M1486 314.5h1M1487 313.5h2M1489 312.5h1M1490 311.5h1M1491 310.5h2M1493 309.5h1M1494 308.5h1M1495 307.5h1M1496 306.5h2M1498 305.5h1M1499 304.5h1M1500 303.5h2M1502 302.5h1M1503 301.5h1M1504 300.5h1M1505 299.5h2M1507 298.5h1M1508 297.5h1M1509 296.5h1M1510 295.5h2M1512 294.5h1M1513 293.5h1M1514 292.5h2M1516 291.5h1M1517 290.5h1M1518 289.5h1M1519 288.5h1M1520 287.5h1M1521 286.5h2M1523 285.5h1M1524 284.5h1M1525 283.5h1M1526 282.5h1M1527 281.5h1M1528 280.5h1M1529 279.5h1M1530 278.5h1M1531 277.5h1M1532 276.5h2M1534 275.5h1M1535 274.5h2M1537 273.5h1M1538 272.5h1M1539 271.5h2M1541 270.5h1M1542 269.5h1M1543 268.5h1M1544 267.5h1M1545 266.5h1M1546 265.5h1M1547 264.5h2M1549 263.5h1M1550 262.5h1M1551 261.5h1M1552 260.5h1M1553 259.5h1M1554 258.5h1M1555 257.5h1M1556 256.5h1M1557 255.5h1M1558 254.5h1M1559 253.5h1M1560 252.5h1M1561 251.5h1M1562 250.5h1M1563 249.5h1M1564 248.5h1M1565 247.5h2" fill="none" stroke="#303030" stroke-width="1" shape-rendering="crispEdges"/>
<rect x="607" y="565" width="424" height="1" fill="#ff30ff" shape-rendering="crispEdges"/>
<g shape-rendering="crispEdges">
<rect x="3.5" y="949.5" width="6" height="28" fill="#389638" stroke="#278d27" stroke-width="1"/>
<rect x="12.5" y="951.5" width="6" height="26" fill="#389638" stroke="#278d27" stroke-width="1"/>
<rect x="21.5" y="952.5" width="6" height="25" fill="#389638" stroke="#278d27" stroke-width="1"/>
<rect x="30.5" y="946.5" width="6" height="31" fill="#fdfdfd" stroke="#ff4040" stroke-width="1"/>
<rect x="39.5" y="893.5" width="6" height="84" fill="#fdfdfd" stroke="#ff4040" stroke-width="1"/>
<rect x="48.5" y="935.5" width="6" height="42" fill="#389638" stroke="#278d27" stroke-width="1"/>
<rect x="57.5" y="947.5" width="6" height="30" fill="#fdfdfd" stroke="#ff4040" stroke-width="1"/>
<rect x="66.5" y="958.5" width="6" height="19" fill="#389638" stroke="#278d27" stroke-width="1"/>
<rect x="75.5" y="950.5" width="6" height="27" fill="#389638" stroke="#278d27" stroke-width="1"/>
<rect x="84.5" y="953.5" width="6" height="24" fill="#389638" stroke="#278d27" stroke-width="1"/>
<rect x="93.5" y="963.5" width="6" height="14" fill="#fdfdfd" stroke="#ff4040" stroke-width="1"/>
<rect x="102.5" y="965.5" width="6" height="12" fill="#389638" stroke="#278d27" stroke-width="1"/>
<rect x="111.5" y="963.5" width="6" height="14" fill="#fdfdfd" stroke="#ff4040" stroke-width="1"/>
<rect x="120.5" y="962.5" width="6" height="15" fill="#fdfdfd" stroke="#ff4040" stroke-width="1"/>
<rect x="129.5" y="959.5" width="6" height="18" fill="#389638" stroke="#278d27" stroke-width="1"/>
<rect x="138.5" y="964.5" width="6" height="13" fill="#fdfdfd" stroke="#ff4040" stroke-width="1"/>
<rect x="147.5" y="961.5" width="6" height="16" fill="#fdfdfd" stroke="#ff4040" stroke-width="1"/>
<rect x="156.5" y="964.5" width="6" height="13" fill="#389638" stroke="#278d27" stroke-width="1"/>
<rect x="165.5" y="964.5" width="6" height="13" fill="#389638" stroke="#278d27" stroke-width="1"/>
<rect x="174.5" y="961.5" width="6" height="16" fill="#fdfdfd" stroke="#ff4040" stroke-width="1"/>
<rect x="183.5" y="963.5" width="6" height="14" fill="#fdfdfd" stroke="#ff4040" stroke-width="1"/>
<rect x="192.5" y="963.5" width="6" height="14" fill="#fdfdfd" stroke="#ff4040" stroke-width="1"/>
<rect x="201.5" y="967.5" width="6" height="10" fill="#fdfdfd" stroke="#ff4040" stroke-width="1"/>
<rect x="210.5" y="965.5" width="6" height="12" fill="#fdfdfd" stroke="#ff4040" stroke-width="1"/>
<rect x="219.5" y="955.5" width="6" height="22" fill="#fdfdfd" stroke="#ff4040" stroke-width="1"/>
<rect x="228.5" y="954.5" width="6" height="23" fill="#389638" stroke="#278d27" stroke-width="1"/>
<rect x="237.5" y="959.5" width="6" height="18" fill="#389638" stroke="#278d27" stroke-width="1"/>
<rect x="246.5" y="932.5" width="6" height="45" fill="#fdfdfd" stroke="#ff4040" stroke-width="1"/>
<rect x="255.5" y="936.5" width="6" height="41" fill="#fdfdfd" stroke="#ff4040" stroke-width="1"/>
<rect x="264.5" y="939.5" width="6" height="38" fill="#fdfdfd" stroke="#ff4040" stroke-width="1"/>
<rect x="273.5" y="956.5" width="6" height="21" fill="#389638" stroke="#278d27" stroke-width="1"/>
<rect x="282.5" y="959.5" width="6" height="18" fill="#389638" stroke="#278d27" stroke-width="1"/>
<rect x="291.5" y="959.5" width="6" height="18" fill="#389638" stroke="#278d27" stroke-width="1"/>
<rect x="300.5" y="966.5" width="6" height="11" fill="#fdfdfd" stroke="#ff4040" stroke-width="1"/>
<rect x="309.5" y="968.5" width="6" height="9" fill="#fdfdfd" stroke="#ff4040" stroke-width="1"/>
<rect x="318.5" y="960.5" width="6" height="17" fill="#fdfdfd" stroke="#ff4040" stroke-width="1"/>
<rect x="328.5" y="956.5" width="6" height="21" fill="#389638" stroke="#278d27" stroke-width="1"/>
<rect x="337.5" y="965.5" width="6" height="12" fill="#389638" stroke="#278d27" stroke-width="1"/>
<rect x="346.5" y="950.5" width="6" height="27" fill="#fdfdfd" stroke="#ff4040" stroke-width="1"/>
<rect x="355.5" y="944.5" width="6" height="33" fill="#fdfdfd" stroke="#ff4040" stroke-width="1"/>
<rect x="364.5" y="953.5" width="6" height="24" fill="#389638" stroke="#278d27" stroke-width="1"/>
<rect x="373.5" y="962.5" width="6" height="15" fill="#389638" stroke="#278d27" stroke-width="1"/>
<rect x="382.5" y="960.5" width="6" height="17" fill="#fdfdfd" stroke="#ff4040" stroke-width="1"/>
<rect x="391.5" y="956.5" width="6" height="21" fill="#389638" stroke="#278d27" stroke-width="1"/>
<rect x="400.5" y="965.5" width="6" height="12" fill="#389638" stroke="#278d27" stroke-width="1"/>
<rect x="409.5" y="966.5" width="6" height="11" fill="#389638" stroke="#278d27" stroke-width="1"/>
<rect x="418.5" y="968.5" width="6" height="9" fill="#fdfdfd" stroke="#ff4040" stroke-width="1"/>
<rect x="427.5" y="965.5" width="6" height="12" fill="#fdfdfd" stroke="#ff4040" stroke-width="1"/>
<rect x="436.5" y="961.5" width="6" height="16" fill="#fdfdfd" stroke="#ff4040" stroke-width="1"/>
<rect x="445.5" y="955.5" width="6" height="22" fill="#fdfdfd" stroke="#ff4040" stroke-width="1"/>
<rect x="454.5" y="923.5" width="6" height="54" fill="#fdfdfd" stroke="#ff4040" stroke-width="1"/>
<rect x="463.5" y="948.5" width="6" height="29" fill="#389638" stroke="#278d27" stroke-width="1"/>
<rect x="472.5" y="860.5" width="6" height="117" fill="#fdfdfd" stroke="#ff4040" stroke-width="1"/>
<rect x="481.5" y="938.5" width="6" height="39" fill="#389638" stroke="#278d27" stroke-width="1"/>
<rect x="490.5" y="935.5" width="6" height="42" fill="#fdfdfd" stroke="#ff4040" stroke-width="1"/>
<rect x="499.5" y="946.5" width="6" height="31" fill="#389638" stroke="#278d27" stroke-width="1"/>
<rect x="508.5" y="880.5" width="6" height="97" fill="#fdfdfd" stroke="#ff4040" stroke-width="1"/>
<rect x="517.5" y="929.5" width="6" height="48" fill="#fdfdfd" stroke="#ff4040" stroke-width="1"/>
<rect x="526.5" y="923.5" width="6" height="54" fill="#fdfdfd" stroke="#ff4040" stroke-width="1"/>
<rect x="535.5" y="929.5" width="6" height="48" fill="#389638" stroke="#278d27" stroke-width="1"/>
<rect x="544.5" y="930.5" width="6" height="47" fill="#fdfdfd" stroke="#ff4040" stroke-width="1"/>
<rect x="553.5" y="902.5" width="6" height="75" fill="#fdfdfd" stroke="#ff4040" stroke-width="1"/>
<rect x="562.5" y="871.5" width="6" height="106" fill="#fdfdfd" stroke="#ff4040" stroke-width="1"/>
<rect x="571.5" y="900.5" width="6" height="77" fill="#fdfdfd" stroke="#ff4040" stroke-width="1"/>
<rect x="580.5" y="825.5" width="6" height="152" fill="#fdfdfd" stroke="#ff4040" stroke-width="1"/>
<rect x="589.5" y="870.5" width="6" height="107" fill="#389638" stroke="#278d27" stroke-width="1"/>
<rect x="598.5" y="910.5" width="6" height="67" fill="#fdfdfd" stroke="#ff4040" stroke-width="1"/>
<rect x="607.5" y="900.5" width="6" height="77" fill="#fdfdfd" stroke="#ff4040" stroke-width="1"/>
<rect x="616.5" y="897.5" width="6" height="80" fill="#389638" stroke="#278d27" stroke-width="1"/>
<rect x="625.5" y="854.5" width="6" height="123" fill="#fdfdfd" stroke="#ff4040" stroke-width="1"/>
<rect x="634.5" y="894.5" width="6" height="83" fill="#389638" stroke="#278d27" stroke-width="1"/>
<rect x="643.5" y="912.5" width="6" height="65" fill="#389638" stroke="#278d27" stroke-width="1"/>
<rect x="652.5" y="926.5" width="6" height="51" fill="#fdfdfd" stroke="#ff4040" stroke-width="1"/>
<rect x="661.5" y="902.5" width="6" height="75" fill="#389638" stroke="#278d27" stroke-width="1"/>
<rect x="670.5" y="920.5" width="6" height="57" fill="#389638" stroke="#278d27" stroke-width="1"/>
<rect x="679.5" y="935.5" width="6" height="42" fill="#fdfdfd" stroke="#ff4040" stroke-width="1"/>
<rect x="688.5" y="904.5" width="6" height="73" fill="#fdfdfd" stroke="#ff4040" stroke-width="1"/>
<rect x="697.5" y="867.5" width="6" height="110" fill="#389638" stroke="#278d27" stroke-width="1"/>
<rect x="706.5" y="925.5" width="6" height="52" fill="#fdfdfd" stroke="#ff4040" stroke-width="1"/>
<rect x="715.5" y="923.5" width="6" height="54" fill="#389638" stroke="#278d27" stroke-width="1"/>
<rect x="724.5" y="934.5" width="6" height="43" fill="#fdfdfd" stroke="#ff4040" stroke-width="1"/>
<rect x="733.5" y="917.5" width="6" height="60" fill="#fdfdfd" stroke="#ff4040" stroke-width="1"/>
<rect x="742.5" y="921.5" width="6" height="56" fill="#fdfdfd" stroke="#ff4040" stroke-width="1"/>
<rect x="751.5" y="905.5" width="6" height="72" fill="#fdfdfd" stroke="#ff4040" stroke-width="1"/>
<rect x="760.5" y="929.5" width="6" height="48" fill="#fdfdfd" stroke="#ff4040" stroke-width="1"/>
<rect x="769.5" y="926.5" width="6" height="51" fill="#389638" stroke="#278d27" stroke-width="1"/>
<rect x="778.5" y="932.5" width="6" height="45" fill="#fdfdfd" stroke="#ff4040" stroke-width="1"/>
<rect x="787.5" y="881.5" width="6" height="96" fill="#fdfdfd" stroke="#ff4040" stroke-width="1"/>
<rect x="796.5" y="844.5" width="6" height="133" fill="#fdfdfd" stroke="#ff4040" stroke-width="1"/>
<rect x="805.5" y="884.5" width="6" height="93" fill="#fdfdfd" stroke="#ff4040" stroke-width="1"/>
<rect x="814.5" y="915.5" width="6" height="62" fill="#389638" stroke="#278d27" stroke-width="1"/>
<rect x="823.5" y="897.5" width="6" height="80" fill="#389638" stroke="#278d27" stroke-width="1"/>
<rect x="832.5" y="901.5" width="6" height="76" fill="#fdfdfd" stroke="#ff4040" stroke-width="1"/>
<rect x="841.5" y="921.5" width="6" height="56" fill="#389638" stroke="#278d27" stroke-width="1"/>
<rect x="851.5" y="940.5" width="6" height="37" fill="#fdfdfd" stroke="#ff4040" stroke-width="1"/>
<rect x="860.5" y="943.5" width="6" height="34" fill="#fdfdfd" stroke="#ff4040" stroke-width="1"/>
<rect x="869.5" y="947.5" width="6" height="30" fill="#fdfdfd" stroke="#ff4040" stroke-width="1"/>
<rect x="878.5" y="944.5" width="6" height="33" fill="#fdfdfd" stroke="#ff4040" stroke-width="1"/>
<rect x="887.5" y="940.5" width="6" height="37" fill="#fdfdfd" stroke="#ff4040" stroke-width="1"/>
<rect x="896.5" y="931.5" width="6" height="46" fill="#389638" stroke="#278d27" stroke-width="1"/>
<rect x="905.5" y="926.5" width="6" height="51" fill="#fdfdfd" stroke="#ff4040" stroke-width="1"/>
<rect x="914.5" y="941.5" width="6" height="36" fill="#389638" stroke="#278d27" stroke-width="1"/>
<rect x="923.5" y="930.5" width="6" height="47" fill="#389638" stroke="#278d27" stroke-width="1"/>
<rect x="932.5" y="944.5" width="6" height="33" fill="#389638" stroke="#278d27" stroke-width="1"/>
<rect x="941.5" y="945.5" width="6" height="32" fill="#fdfdfd" stroke="#ff4040" stroke-width="1"/>
<rect x="950.5" y="920.5" width="6" height="57" fill="#fdfdfd" stroke="#ff4040" stroke-width="1"/>
<rect x="959.5" y="919.5" width="6" height="58" fill="#389638" stroke="#278d27" stroke-width="1"/>
<rect x="968.5" y="867.5" width="6" height="110" fill="#fdfdfd" stroke="#ff4040" stroke-width="1"/>
<rect x="977.5" y="816.5" width="6" height="161" fill="#fdfdfd" stroke="#ff4040" stroke-width="1"/>
<rect x="986.5" y="856.5" width="6" height="121" fill="#fdfdfd" stroke="#ff4040" stroke-width="1"/>
<rect x="995.5" y="886.5" width="6" height="91" fill="#fdfdfd" stroke="#ff4040" stroke-width="1"/>
<rect x="1004.5" y="846.5" width="6" height="131" fill="#fdfdfd" stroke="#ff4040" stroke-width="1"/>
<rect x="1013.5" y="863.5" width="6" height="114" fill="#fdfdfd" stroke="#ff4040" stroke-width="1"/>
<rect x="1022.5" y="893.5" width="6" height="84" fill="#389638" stroke="#278d27" stroke-width="1"/>
<rect x="1031.5" y="884.5" width="6" height="93" fill="#389638" stroke="#278d27" stroke-width="1"/>
<rect x="1040.5" y="920.5" width="6" height="57" fill="#fdfdfd" stroke="#ff4040" stroke-width="1"/>
<rect x="1049.5" y="926.5" width="6" height="51" fill="#389638" stroke="#278d27" stroke-width="1"/>
<rect x="1058.5" y="881.5" width="6" height="96" fill="#fdfdfd" stroke="#ff4040" stroke-width="1"/>
<rect x="1067.5" y="914.5" width="6" height="63" fill="#389638" stroke="#278d27" stroke-width="1"/>
<rect x="1076.5" y="890.5" width="6" height="87" fill="#fdfdfd" stroke="#ff4040" stroke-width="1"/>
<rect x="1085.5" y="880.5" width="6" height="97" fill="#fdfdfd" stroke="#ff4040" stroke-width="1"/>
<rect x="1094.5" y="852.5" width="6" height="125" fill="#fdfdfd" stroke="#ff4040" stroke-width="1"/>
<rect x="1103.5" y="860.5" width="6" height="117" fill="#389638" stroke="#278d27" stroke-width="1"/>
<rect x="1112.5" y="887.5" width="6" height="90" fill="#389638" stroke="#278d27" stroke-width="1"/>
<rect x="1121.5" y="898.5" width="6" height="79" fill="#fdfdfd" stroke="#ff4040" stroke-width="1"/>
<rect x="1130.5" y="907.5" width="6" height="70" fill="#fdfdfd" stroke="#ff4040" stroke-width="1"/>
<rect x="1139.5" y="908.5" width="6" height="69" fill="#389638" stroke="#278d27" stroke-width="1"/>
<rect x="1148.5" y="889.5" width="6" height="88" fill="#389638" stroke="#278d27" stroke-width="1"/>
<rect x="1157.5" y="913.5" width="6" height="64" fill="#fdfdfd" stroke="#ff4040" stroke-width="1"/>
<rect x="1166.5" y="932.5" width="6" height="45" fill="#389638" stroke="#278d27" stroke-width="1"/>
<rect x="1175.5" y="940.5" width="6" height="37" fill="#389638" stroke="#278d27" stroke-width="1"/>
<rect x="1184.5" y="931.5" width="6" height="46" fill="#fdfdfd" stroke="#ff4040" stroke-width="1"/>
<rect x="1193.5" y="927.5" width="6" height="50" fill="#389638" stroke="#278d27" stroke-width="1"/>
<rect x="1202.5" y="925.5" width="6" height="52" fill="#fdfdfd" stroke="#ff4040" stroke-width="1"/>
<rect x="1211.5" y="941.5" width="6" height="36" fill="#389638" stroke="#278d27" stroke-width="1"/>
<rect x="1220.5" y="920.5" width="6" height="57" fill="#fdfdfd" stroke="#ff4040" stroke-width="1"/>
<rect x="1229.5" y="919.5" width="6" height="58" fill="#389638" stroke="#278d27" stroke-width="1"/>
<rect x="1238.5" y="905.5" width="6" height="72" fill="#fdfdfd" stroke="#ff4040" stroke-width="1"/>
<rect x="1247.5" y="891.5" width="6" height="86" fill="#fdfdfd" stroke="#ff4040" stroke-width="1"/>
<rect x="1256.5" y="880.5" width="6" height="97" fill="#fdfdfd" stroke="#ff4040" stroke-width="1"/>
<rect x="1265.5" y="852.5" width="6" height="125" fill="#fdfdfd" stroke="#ff4040" stroke-width="1"/>
<rect x="1274.5" y="801.5" width="6" height="176" fill="#389638" stroke="#278d27" stroke-width="1"/>
<rect x="1283.5" y="827.5" width="6" height="150" fill="#fdfdfd" stroke="#ff4040" stroke-width="1"/>
<rect x="1292.5" y="789.5" width="6" height="188" fill="#fdfdfd" stroke="#ff4040" stroke-width="1"/>
<rect x="1301.5" y="901.5" width="6" height="76" fill="#389638" stroke="#278d27" stroke-width="1"/>
<rect x="1310.5" y="897.5" width="6" height="80" fill="#389638" stroke="#278d27" stroke-width="1"/>
<rect x="1319.5" y="940.5" width="6" height="37" fill="#fdfdfd" stroke="#ff4040" stroke-width="1"/>
<rect x="1328.5" y="935.5" width="6" height="42" fill="#fdfdfd" stroke="#ff4040" stroke-width="1"/>
<rect x="1337.5" y="923.5" width="6" height="54" fill="#fdfdfd" stroke="#ff4040" stroke-width="1"/>
<rect x="1346.5" y="906.5" width="6" height="71" fill="#fdfdfd" stroke="#ff4040" stroke-width="1"/>
<rect x="1355.5" y="880.5" width="6" height="97" fill="#fdfdfd" stroke="#ff4040" stroke-width="1"/>
<rect x="1364.5" y="907.5" width="6" height="70" fill="#389638" stroke="#278d27" stroke-width="1"/>
<rect x="1374.5" y="899.5" width="6" height="78" fill="#389638" stroke="#278d27" stroke-width="1"/>
<rect x="1383.5" y="925.5" width="6" height="52" fill="#fdfdfd" stroke="#ff4040" stroke-width="1"/>
<rect x="1392.5" y="918.5" width="6" height="59" fill="#389638" stroke="#278d27" stroke-width="1"/>
<rect x="1401.5" y="928.5" width="6" height="49" fill="#fdfdfd" stroke="#ff4040" stroke-width="1"/>
<rect x="1410.5" y="935.5" width="6" height="42" fill="#fdfdfd" stroke="#ff4040" stroke-width="1"/>
<rect x="1419.5" y="937.5" width="6" height="40" fill="#389638" stroke="#278d27" stroke-width="1"/>
<rect x="1428.5" y="868.5" width="6" height="109" fill="#fdfdfd" stroke="#ff4040" stroke-width="1"/>
<rect x="1437.5" y="889.5" width="6" height="88" fill="#fdfdfd" stroke="#ff4040" stroke-width="1"/>
<rect x="1446.5" y="901.5" width="6" height="76" fill="#fdfdfd" stroke="#ff4040" stroke-width="1"/>
<rect x="1455.5" y="893.5" width="6" height="84" fill="#389638" stroke="#278d27" stroke-width="1"/>
<rect x="1464.5" y="833.5" width="6" height="144" fill="#fdfdfd" stroke="#ff4040" stroke-width="1"/>
<rect x="1473.5" y="865.5" width="6" height="112" fill="#389638" stroke="#278d27" stroke-width="1"/>
<rect x="1482.5" y="910.5" width="6" height="67" fill="#fdfdfd" stroke="#ff4040" stroke-width="1"/>
<rect x="1491.5" y="850.5" width="6" height="127" fill="#fdfdfd" stroke="#ff4040" stroke-width="1"/>
<rect x="1500.5" y="835.5" width="6" height="142" fill="#389638" stroke="#278d27" stroke-width="1"/>
<rect x="1509.5" y="884.5" width="6" height="93" fill="#fdfdfd" stroke="#ff4040" stroke-width="1"/>
<rect x="1518.5" y="755.5" width="6" height="222" fill="#fdfdfd" stroke="#ff4040" stroke-width="1"/>
<rect x="1527.5" y="851.5" width="6" height="126" fill="#fdfdfd" stroke="#ff4040" stroke-width="1"/>
<rect x="1536.5" y="846.5" width="6" height="131" fill="#fdfdfd" stroke="#ff4040" stroke-width="1"/>
<rect x="1545.5" y="833.5" width="6" height="144" fill="#fdfdfd" stroke="#ff4040" stroke-width="1"/>
<rect x="1554.5" y="824.5" width="6" height="153" fill="#fdfdfd" stroke="#ff4040" stroke-width="1"/>
<rect x="1563.5" y="863.5" width="6" height="114" fill="#389638" stroke="#278d27" stroke-width="1"/>
</g>
<path d="M6 953.5h6M12 952.5h14M26 951.5h3M29 950.5h4M33 949.5h1M34 948.5h1M35 947.5h1M36.5 946v1M36 945.5h1M37 944.5h1M38 943.5h1M39 942.5h1M40.5 941v1M40 940.5h1M41 939.5h1M42 938.5h2M44 937.5h3M47 936.5h3M50 935.5h9M59 934.5h2M61 935.5h8M69 936.5h10M79.5 937v1M79 938.5h1M80 939.5h1M81 940.5h1M82.5 941v1M82 942.5h1M83 943.5h1M84 944.5h1M85.5 945v1M85 946.5h1M86 947.5h1M87 948.5h1M88 949.5h1M89 950.5h2M91 951.5h2M93 952.5h1M94 953.5h2M96 954.5h2M98 955.5h3M101 956.5h2M103 957.5h3M106 958.5h8M114 959.5h4M118 960.5h4M122 961.5h6M128 962.5h22M150 961.5h6M156 962.5h39M195 963.5h26M221 962.5h5M226 961.5h5M231 960.5h10M241 959.5h1M242 958.5h1M243 957.5h2M245 956.5h1M246 955.5h1M247 954.5h2M249 953.5h1M250 952.5h1M251 951.5h2M253 950.5h2M255 949.5h1M256 948.5h2M258 947.5h2M260 946.5h3M263 945.5h2M265 944.5h21M286 945.5h2M288 946.5h1M289 947.5h2M291 948.5h2M293 949.5h1M294 950.5h2M296 951.5h2M298 952.5h1M299 953.5h2M301 954.5h1M302 955.5h2M304 956.5h1M305 957.5h2M307 958.5h1M308 959.5h2M310 960.5h1M311 961.5h5M316 962.5h15M331 961.5h1M332 962.5h7M339 963.5h2M341 962.5h3M344 961.5h3M347 960.5h3M350 959.5h2M352 958.5h2M354 957.5h1M355 956.5h2M357 955.5h4M361 954.5h6M367 953.5h2M369 954.5h7M376 955.5h1M377 954.5h17M394 955.5h2M396 956.5h3M399 957.5h2M401 958.5h2M403 959.5h3M406 960.5h3M409 961.5h4M413 962.5h7M420 963.5h10M430 964.5h8M438 965.5h3M441 964.5h4M445 963.5h4M449 962.5h1M450 961.5h1M451 960.5h1M452 959.5h1M453 958.5h1M454 957.5h1M455 956.5h1M456 955.5h1M457 954.5h2M459 953.5h2M461 952.5h2M463 951.5h3M466 950.5h1M467.5 949v1M467 948.5h1M468.5 946v2M468 945.5h1M469.5 944v1M469 943.5h1M470.5 942v1M470 941.5h1M471.5 939v2M471 938.5h1M472.5 937v1M472 936.5h1M473.5 935v1M473 934.5h1M474.5 932v2M474 931.5h1M475.5 930v1M475 929.5h2M477 928.5h2M479 927.5h2M481 926.5h1M482 925.5h2M484 924.5h3M487 923.5h2M489 922.5h2M491 921.5h2M493 920.5h1M494 921.5h2M496 922.5h2M498 923.5h2M500 924.5h2M502 925.5h1M503.5 924v1M503 923.5h1M504 922.5h1M505.5 921v1M505 920.5h1M506 919.5h1M507.5 918v1M507 917.5h1M508 916.5h1M509.5 915v1M509 914.5h1M510 913.5h1M511.5 912v1M511 911.5h1M512.5 912v1M512 913.5h1M513.5 914v1M513 915.5h1M514 916.5h1M515.5 917v1M515 918.5h1M516 919.5h1M517.5 920v1M517 921.5h1M518 922.5h1M519.5 923v1M519 924.5h1M520 925.5h3M523 924.5h3M526 923.5h3M529 922.5h7M536 921.5h4M540 920.5h3M543 919.5h3M546 918.5h3M549 919.5h2M551 920.5h2M553 921.5h2M555 922.5h2M557 921.5h1M558 920.5h1M559.5 919v1M559 918.5h1M560 917.5h1M561 916.5h1M562 915.5h1M563.5 914v1M563 913.5h1M564 912.5h1M565 911.5h1M566 910.5h2M568 909.5h2M570 908.5h2M572 907.5h2M574 906.5h1M575.5 905v1M575 904.5h1M576.5 903v1M576 902.5h1M577.5 900v2M577 899.5h1M578.5 898v1M578 897.5h1M579.5 896v1M579 895.5h1M580.5 893v2M580 892.5h1M581.5 891v1M581 890.5h1M582.5 889v1M582 888.5h1M583.5 886v2M583 885.5h1M584 884.5h1M585 883.5h1M586.5 882v1M586 881.5h1M587 880.5h1M588 879.5h1M589.5 878v1M589 877.5h1M590 876.5h1M591 875.5h1M592.5 874v1M592 873.5h2M594 874.5h5M599 875.5h3M602 876.5h2M604 877.5h2M606 878.5h1M607 879.5h2M609 880.5h1M610 881.5h1M611 880.5h9M620 881.5h2M622 882.5h2M624 883.5h1M625 884.5h2M627 885.5h1M628 886.5h2M630 887.5h2M632 888.5h2M634 889.5h2M636 890.5h1M637 891.5h11M648 892.5h1M649 893.5h2M651 894.5h2M653 895.5h1M654 896.5h4M658 897.5h7M665.5 898v1M665 899.5h1M666 900.5h1M667.5 901v1M667 902.5h1M668 903.5h1M669.5 904v1M669 905.5h1M670 906.5h1M671 907.5h1M672.5 908v1M672 909.5h1M673 910.5h1M674 911.5h1M675 912.5h1M676 913.5h1M677 914.5h1M678 915.5h1M679 916.5h1M680 917.5h1M681 918.5h1M682 919.5h1M683 918.5h6M689 917.5h3M692 916.5h1M693.5 915v1M693 914.5h1M694 913.5h1M695 912.5h1M696.5 911v1M696 910.5h1M697 909.5h1M698 908.5h1M699.5 907v1M699 906.5h1M700 905.5h1M701 906.5h2M703 907.5h2M705 908.5h2M707 909.5h2M709 910.5h20M729 911.5h3M732 912.5h3M735 913.5h2M737 914.5h1M738 915.5h1M739 916.5h1M740.5 917v1M740 918.5h1M741 919.5h1M742 920.5h1M743 921.5h1M744 922.5h1M745.5 923v1M745 924.5h1M746 923.5h2M748 922.5h2M750 921.5h3M753 920.5h7M760 921.5h6M766 920.5h5M771 919.5h2M773 920.5h3M776 921.5h3M779 922.5h3M782 921.5h1M783 920.5h2M785 919.5h1M786 918.5h1M787 917.5h1M788 916.5h1M789 915.5h1M790 914.5h1M791 913.5h1M792 912.5h1M793.5 911v1M793 910.5h1M794 909.5h1M795 908.5h1M796.5 907v1M796 906.5h1M797 905.5h1M798.5 904v1M798 903.5h1M799 902.5h1M800 901.5h1M801 900.5h1M802 899.5h1M803 898.5h1M804 897.5h1M805 896.5h1M806 895.5h1M807 894.5h1M808 893.5h3M811 892.5h4M815 891.5h3M818 890.5h1M819 889.5h2M821 888.5h1M822 887.5h1M823 886.5h1M824 885.5h2M826 884.5h2M828 885.5h2M830 886.5h3M833 887.5h2M835 888.5h1M836 889.5h1M837.5 890v1M837 891.5h1M838.5 892v1M838 893.5h1M839.5 894v1M839 895.5h1M840 896.5h1M841.5 897v1M841 898.5h1M842.5 899v1M842 900.5h1M843 901.5h1M844.5 902v1M844 903.5h1M845 904.5h1M846 905.5h1M847 906.5h1M848.5 907v1M848 908.5h1M849 909.5h1M850 910.5h1M851 911.5h1M852 912.5h1M853 913.5h1M854 914.5h1M855 915.5h1M856 916.5h2M858 917.5h2M860 918.5h1M861 919.5h2M863 920.5h1M864 921.5h1M865 922.5h1M866 923.5h1M867 924.5h1M868 925.5h1M869.5 926v1M869 927.5h1M870 928.5h1M871 929.5h1M872 930.5h1M873 931.5h1M874 932.5h1M875 933.5h1M876 934.5h1M877 935.5h1M878 936.5h1M879 937.5h1M880 938.5h1M881 939.5h3M884 940.5h2M886 941.5h2M888 942.5h7M895 941.5h5M900 940.5h2M902 939.5h3M905 938.5h3M908 937.5h7M915 936.5h5M920 935.5h3M923 934.5h3M926 933.5h3M929 934.5h8M937 935.5h3M940 936.5h4M944 937.5h2M946 936.5h8M954 935.5h2M956 934.5h2M958 933.5h2M960 932.5h2M962 931.5h1M963 930.5h1M964.5 929v1M964 928.5h1M965 927.5h1M966 926.5h1M967.5 925v1M967 924.5h1M968 923.5h1M969.5 922v1M969 921.5h1M970 920.5h1M971 919.5h1M972.5 917v2M972 916.5h1M973.5 914v2M973 913.5h1M974.5 911v2M974 910.5h1M975.5 908v2M975 907.5h1M976.5 905v2M976 904.5h1M977.5 903v1M977 902.5h1M978.5 900v2M978 899.5h1M979.5 897v2M979 896.5h1M980.5 894v2M980 893.5h1M981.5 892v1M981 891.5h1M982.5 890v1M982 889.5h1M983.5 888v1M983 887.5h1M984.5 886v1M984 885.5h1M985.5 884v1M985 883.5h1M986.5 882v1M986 881.5h1M987.5 880v1M987 879.5h1M988.5 878v1M988 877.5h1M989.5 876v1M989 875.5h2M991 874.5h1M992 873.5h1M993 872.5h2M995 871.5h1M996 870.5h1M997 869.5h2M999.5 868v1M999 867.5h1M1000.5 866v1M1000 865.5h1M1001 864.5h1M1002.5 863v1M1002 862.5h1M1003.5 861v1M1003 860.5h1M1004 859.5h1M1005.5 858v1M1005 857.5h1M1006 856.5h1M1007.5 855v1M1007 854.5h5M1012 853.5h5M1017.5 854v1M1017 855.5h1M1018.5 856v1M1018 857.5h1M1019 858.5h1M1020.5 859v1M1020 860.5h1M1021.5 861v1M1021 862.5h1M1022 863.5h1M1023.5 864v1M1023 865.5h1M1024.5 866v1M1024 867.5h1M1025 868.5h1M1026 869.5h1M1027 870.5h2M1029 871.5h1M1030 872.5h2M1032 873.5h2M1034 874.5h1M1035 875.5h1M1036 876.5h2M1038 877.5h1M1039 878.5h1M1040 879.5h2M1042 880.5h1M1043 881.5h1M1044.5 882v1M1044 883.5h1M1045 884.5h1M1046.5 885v1M1046 886.5h1M1047.5 887v1M1047 888.5h1M1048.5 889v1M1048 890.5h1M1049.5 891v1M1049 892.5h1M1050 893.5h1M1051.5 894v1M1051 895.5h1M1052.5 896v1M1052 897.5h2M1054 898.5h2M1056 899.5h3M1059 900.5h3M1062 901.5h2M1064 902.5h2M1066 903.5h2M1068 904.5h2M1070 905.5h7M1077 906.5h3M1080 905.5h1M1081 904.5h1M1082 903.5h1M1083 902.5h1M1084 901.5h1M1085 900.5h1M1086 899.5h1M1087 898.5h2M1089.5 897v1M1089 896.5h1M1090.5 895v1M1090 894.5h1M1091 893.5h1M1092.5 892v1M1092 891.5h1M1093.5 890v1M1093 889.5h1M1094 888.5h1M1095.5 887v1M1095 886.5h1M1096.5 885v1M1096 884.5h1M1097 883.5h1M1098 882.5h2M1100 881.5h2M1102 880.5h3M1105 879.5h2M1107 878.5h1M1108 877.5h2M1110 876.5h2M1112 875.5h1M1113 874.5h2M1115 873.5h2M1117 874.5h5M1122 875.5h3M1125 876.5h2M1127 877.5h2M1129 878.5h1M1130 879.5h2M1132 880.5h2M1134.5 881v1M1134 882.5h1M1135 883.5h1M1136 884.5h1M1137 885.5h1M1138.5 886v1M1138 887.5h1M1139 888.5h1M1140 889.5h1M1141 890.5h1M1142.5 891v1M1142 892.5h2M1144 893.5h2M1146 894.5h1M1147 895.5h2M1149 896.5h1M1150 897.5h2M1152 898.5h2M1154 899.5h1M1155 900.5h2M1157 901.5h2M1159 902.5h1M1160 903.5h2M1162 904.5h1M1163 905.5h1M1164 906.5h2M1166 907.5h1M1167 908.5h1M1168 909.5h2M1170 910.5h1M1171 911.5h1M1172 912.5h2M1174 913.5h1M1175 914.5h1M1176 915.5h2M1178 916.5h1M1179 917.5h2M1181 918.5h2M1183 919.5h2M1185 920.5h2M1187 921.5h2M1189 922.5h1M1190 923.5h1M1191 924.5h1M1192 925.5h1M1193 926.5h1M1194 927.5h1M1195 928.5h2M1197 929.5h4M1201 930.5h4M1205 931.5h4M1209 932.5h5M1214 933.5h1M1215 932.5h2M1217 931.5h2M1219 930.5h2M1221 929.5h2M1223 928.5h4M1227 927.5h4M1231 926.5h2M1233 925.5h2M1235 924.5h3M1238 923.5h2M1240 922.5h2M1242 921.5h1M1243 920.5h1M1244 919.5h2M1246 918.5h1M1247 917.5h1M1248 916.5h2M1250 915.5h1M1251.5 914v1M1251 913.5h1M1252 912.5h1M1253 911.5h1M1254.5 910v1M1254 909.5h1M1255 908.5h1M1256 907.5h1M1257.5 906v1M1257 905.5h1M1258 904.5h1M1259 903.5h1M1260.5 902v1M1260 901.5h1M1261 900.5h1M1262.5 899v1M1262 898.5h1M1263 897.5h1M1264.5 896v1M1264 895.5h1M1265 894.5h1M1266.5 893v1M1266 892.5h1M1267 891.5h1M1268.5 890v1M1268 889.5h1M1269.5 888v1M1269 887.5h1M1270.5 885v2M1270 884.5h1M1271.5 882v2M1271 881.5h1M1272.5 880v1M1272 879.5h1M1273.5 877v2M1273 876.5h1M1274.5 874v2M1274 873.5h1M1275.5 872v1M1275 871.5h1M1276.5 869v2M1276 868.5h1M1277.5 867v1M1277 866.5h1M1278.5 865v1M1278 864.5h1M1279.5 863v1M1279 862.5h1M1280.5 861v1M1280 860.5h1M1281 859.5h1M1282.5 858v1M1282 857.5h1M1283.5 856v1M1283 855.5h1M1284.5 854v1M1284 853.5h1M1285 852.5h1M1286.5 851v1M1286 850.5h1M1287.5 849v1M1287 848.5h1M1288.5 846v2M1288 845.5h1M1289.5 844v1M1289 843.5h1M1290.5 842v1M1290 841.5h1M1291.5 840v1M1291 839.5h1M1292.5 837v2M1292 836.5h1M1293.5 835v1M1293 834.5h1M1294.5 833v1M1294 832.5h1M1295.5 831v1M1295 830.5h3M1298 831.5h2M1300 832.5h2M1302 833.5h2M1304 834.5h1M1305 835.5h1M1306 836.5h1M1307 837.5h1M1308 838.5h1M1309 839.5h1M1310 840.5h1M1311 841.5h1M1312 842.5h1M1313 843.5h1M1314.5 844v2M1314 846.5h1M1315.5 847v2M1315 849.5h1M1316.5 850v2M1316 852.5h1M1317.5 853v2M1317 855.5h1M1318.5 856v2M1318 858.5h1M1319.5 859v2M1319 861.5h1M1320.5 862v2M1320 864.5h1M1321.5 865v2M1321 867.5h1M1322.5 868v2M1322 870.5h1M1323.5 871v2M1323 873.5h1M1324.5 874v1M1324 875.5h1M1325.5 876v2M1325 878.5h1M1326.5 879v1M1326 880.5h1M1327.5 881v1M1327 882.5h1M1328.5 883v2M1328 885.5h1M1329.5 886v1M1329 887.5h1M1330.5 888v2M1330 890.5h1M1331.5 891v1M1331 892.5h1M1332.5 893v2M1332 895.5h1M1333.5 896v2M1333 898.5h1M1334.5 899v2M1334 901.5h1M1335.5 902v2M1335 904.5h1M1336.5 905v2M1336 907.5h1M1337.5 908v2M1337 910.5h1M1338.5 911v2M1338 913.5h1M1339.5 914v2M1339 916.5h1M1340.5 917v2M1340 919.5h5M1345 920.5h6M1351 919.5h2M1353 918.5h3M1356 917.5h3M1359 916.5h1M1360 915.5h1M1361 914.5h2M1363 913.5h1M1364 912.5h1M1365 911.5h2M1367 910.5h1M1368 909.5h2M1370 908.5h1M1371 907.5h1M1372 906.5h2M1374 905.5h1M1375 904.5h1M1376 903.5h12M1388 904.5h4M1392 905.5h4M1396 906.5h1M1397.5 907v1M1397 908.5h1M1398 909.5h1M1399 910.5h1M1400 911.5h1M1401 912.5h1M1402 913.5h1M1403 914.5h1M1404 915.5h1M1405 916.5h2M1407 917.5h1M1408 918.5h2M1410 919.5h2M1412 920.5h1M1413 921.5h1M1414 922.5h2M1416 923.5h1M1417 924.5h1M1418 925.5h1M1419 926.5h1M1420 927.5h2M1422 928.5h1M1423 927.5h1M1424 926.5h1M1425.5 925v1M1425 924.5h1M1426 923.5h1M1427 922.5h1M1428 921.5h1M1429.5 920v1M1429 919.5h1M1430 918.5h1M1431 917.5h1M1432 916.5h2M1434 915.5h1M1435 914.5h2M1437 913.5h1M1438 912.5h2M1440 911.5h2M1442 910.5h1M1443 909.5h2M1445 908.5h2M1447 907.5h1M1448 906.5h2M1450 905.5h1M1451 904.5h1M1452 903.5h1M1453 902.5h1M1454 901.5h1M1455 900.5h1M1456 899.5h1M1457 898.5h1M1458 897.5h1M1459.5 896v1M1459 895.5h1M1460.5 894v1M1460 893.5h1M1461.5 891v2M1461 890.5h1M1462.5 889v1M1462 888.5h1M1463.5 887v1M1463 886.5h1M1464.5 884v2M1464 883.5h1M1465.5 882v1M1465 881.5h1M1466.5 880v1M1466 879.5h1M1467.5 878v1M1467 877.5h2M1469 876.5h9M1478 877.5h2M1480 878.5h2M1482 879.5h2M1484 880.5h2M1486 879.5h1M1487 878.5h1M1488 877.5h1M1489 876.5h1M1490.5 875v1M1490 874.5h1M1491 873.5h1M1492 872.5h1M1493 871.5h1M1494 870.5h1M1495.5 869v1M1495 868.5h1M1496 867.5h1M1497 866.5h1M1498 865.5h1M1499.5 864v1M1499 863.5h1M1500 862.5h1M1501 861.5h1M1502.5 860v1M1502 859.5h1M1503 858.5h1M1504 859.5h1M1505 860.5h1M1506.5 861v1M1506 862.5h1M1507 863.5h1M1508 864.5h1M1509 865.5h1M1510 866.5h1M1511 867.5h1M1512 868.5h1M1513.5 867v1M1513 866.5h1M1514.5 864v2M1514 863.5h1M1515.5 862v1M1515 861.5h1M1516.5 860v1M1516 859.5h1M1517.5 857v2M1517 856.5h1M1518.5 855v1M1518 854.5h1M1519.5 852v2M1519 851.5h1M1520.5 850v1M1520 849.5h1M1521.5 847v2M1521 846.5h1M1522 845.5h1M1523 844.5h1M1524.5 843v1M1524 842.5h1M1525 841.5h1M1526 840.5h1M1527 839.5h1M1528.5 838v1M1528 837.5h1M1529 836.5h1M1530 835.5h1M1531 834.5h18M1549.5 833v1M1549 832.5h1M1550 831.5h1M1551 830.5h1M1552.5 829v1M1552 828.5h1M1553 827.5h1M1554 826.5h1M1555.5 825v1M1555 824.5h1M1556 823.5h1M1557 822.5h1M1558.5 823v1M1558 824.5h1M1559.5 825v1M1559 826.5h1M1560.5 827v2M1560 829.5h1M1561.5 830v1M1561 831.5h1M1562.5 832v2M1562 834.5h1M1563.5 835v1M1563 836.5h1M1564.5 837v1M1564 838.5h1M1565.5 839v2M1565 841.5h1M1566.5 842v1M1566 843.5h1" fill="none" stroke="#0b78d8" stroke-width="1" shape-rendering="crispEdges"/>
<path d="M6 948.5h3M9 949.5h4M13 950.5h6M19 951.5h15M34 950.5h1M35 949.5h2M37 948.5h1M38 947.5h2M40 946.5h1M41 945.5h3M44 944.5h10M54 943.5h13M67 944.5h5M72 943.5h18M90 944.5h7M97 945.5h6M103 946.5h7M110 947.5h7M117 948.5h6M123 949.5h2M125 950.5h1M126 951.5h1M127 952.5h2M129 953.5h1M130 954.5h2M132 955.5h1M133 956.5h4M137 957.5h3M140 958.5h4M144 959.5h7M151 960.5h11M162 961.5h7M169 962.5h39M208 963.5h10M218 962.5h11M229 961.5h13M242 960.5h3M245 959.5h3M248 958.5h3M251 957.5h3M254 956.5h3M257 955.5h4M261 954.5h5M266 953.5h8M274 952.5h17M291 951.5h15M306 952.5h7M313 953.5h20M333 954.5h3M336 955.5h3M339 956.5h4M343 957.5h6M349 958.5h42M391 957.5h22M413 958.5h8M421 959.5h17M438 960.5h8M446 961.5h3M449 960.5h3M452 959.5h3M455 958.5h4M459 957.5h7M466 956.5h1M467 955.5h1M468 954.5h1M469 953.5h1M470 952.5h1M471 951.5h1M472 950.5h1M473 949.5h1M474.5 948v1M474 947.5h1M475 946.5h5M480 945.5h5M485 944.5h3M488 943.5h3M491 942.5h3M494 941.5h4M498 940.5h5M503 939.5h1M504 938.5h1M505 937.5h1M506 936.5h1M507 935.5h1M508 934.5h1M509 933.5h1M510 932.5h1M511 931.5h1M512 930.5h3M515 929.5h2M517 928.5h3M520 927.5h2M522 926.5h2M524 925.5h3M527 924.5h2M529 923.5h4M533 922.5h3M536 921.5h13M549 920.5h2M551 919.5h2M553 918.5h2M555 917.5h6M561 918.5h6M567 917.5h2M569 916.5h2M571 915.5h3M574 914.5h1M575 913.5h1M576 912.5h1M577 911.5h1M578.5 910v1M578 909.5h1M579 908.5h1M580 907.5h1M581 906.5h1M582.5 905v1M582 904.5h1M583 903.5h1M584 902.5h2M586 901.5h1M587 900.5h1M588 899.5h1M589 898.5h1M590 897.5h1M591 896.5h4M595 897.5h3M598 898.5h3M601 899.5h1M602 898.5h3M605 897.5h3M608 896.5h3M611 895.5h3M614 894.5h4M618 893.5h2M620 892.5h1M621 891.5h2M623 890.5h1M624 889.5h1M625 888.5h1M626 887.5h1M627 886.5h2M629 885.5h2M631 884.5h3M634 883.5h2M636 882.5h7M643 883.5h5M648 884.5h1M649 885.5h2M651 886.5h1M652 887.5h2M654 888.5h7M661 889.5h4M665 890.5h1M666 891.5h1M667 892.5h1M668 893.5h1M669 894.5h1M670 895.5h1M671 896.5h1M672 897.5h1M673 898.5h1M674 899.5h2M676 900.5h1M677 901.5h1M678 902.5h2M680 903.5h1M681 904.5h1M682 905.5h1M683 904.5h10M693 903.5h2M695 902.5h3M698 901.5h5M703 902.5h3M706 903.5h4M710 904.5h1M711 905.5h1M712 906.5h1M713 907.5h2M715 908.5h1M716 909.5h1M717 910.5h2M719 911.5h2M721 912.5h2M723 913.5h3M726 914.5h3M729 915.5h15M744 914.5h4M748 915.5h14M762 916.5h3M765 915.5h10M775 916.5h3M778 917.5h3M781 918.5h6M787 919.5h4M791 918.5h1M792 917.5h1M793 916.5h1M794 915.5h1M795 914.5h2M797 913.5h1M798 912.5h1M799 911.5h1M800 910.5h3M803 909.5h2M805 908.5h2M807 907.5h4M811 906.5h4M815 905.5h5M820 904.5h4M824 903.5h5M829 902.5h4M833 901.5h5M838 902.5h6M844 903.5h9M853 904.5h6M859 905.5h5M864 906.5h6M870 907.5h3M873 908.5h2M875 909.5h1M876 910.5h2M878 911.5h1M879 912.5h2M881 913.5h1M882 914.5h1M883 915.5h1M884 916.5h1M885 917.5h1M886 918.5h1M887.5 919v1M887 920.5h1M888 921.5h1M889 922.5h1M890 923.5h2M892 924.5h2M894 925.5h2M896 926.5h2M898 927.5h2M900 928.5h8M908 929.5h2M910 930.5h2M912 931.5h2M914 932.5h2M916 933.5h3M919 934.5h3M922 935.5h3M925 936.5h4M929 937.5h4M933 938.5h9M942 939.5h3M945 938.5h4M949 937.5h4M953 936.5h3M956 935.5h4M960 934.5h3M963 933.5h1M964 932.5h1M965 931.5h1M966 930.5h1M967 929.5h2M969 928.5h1M970 927.5h1M971 926.5h1M972 925.5h1M973.5 924v1M973 923.5h1M974 922.5h1M975.5 921v1M975 920.5h1M976 919.5h1M977 918.5h1M978.5 917v1M978 916.5h1M979 915.5h1M980 914.5h1M981 913.5h1M982 912.5h1M983 911.5h1M984 910.5h1M985 909.5h2M987 908.5h1M988 907.5h1M989 906.5h2M991 905.5h2M993 904.5h2M995 903.5h2M997 902.5h2M999 901.5h1M1000 900.5h1M1001 899.5h1M1002 898.5h1M1003 897.5h1M1004 896.5h1M1005 895.5h1M1006 894.5h1M1007 893.5h1M1008 892.5h1M1009 891.5h1M1010 890.5h2M1012 889.5h1M1013 888.5h1M1014 887.5h2M1016 886.5h1M1017 885.5h2M1019 884.5h2M1021 883.5h1M1022 882.5h2M1024 881.5h2M1026 880.5h1M1027 879.5h2M1029 878.5h1M1030 877.5h2M1032 876.5h1M1033 875.5h20M1053 876.5h7M1060 877.5h2M1062 878.5h1M1063 879.5h1M1064 880.5h1M1065 881.5h1M1066 882.5h1M1067 883.5h1M1068 884.5h1M1069 885.5h1M1070.5 886v1M1070 887.5h3M1073 888.5h3M1076 889.5h2M1078 890.5h7M1085 889.5h7M1092 890.5h15M1107 889.5h12M1119 890.5h11M1130 889.5h6M1136 888.5h5M1141 887.5h5M1146 888.5h16M1162 889.5h2M1164 890.5h2M1166 891.5h2M1168 892.5h2M1170 893.5h2M1172 894.5h1M1173 895.5h2M1175 896.5h1M1176 897.5h1M1177 898.5h2M1179 899.5h1M1180 900.5h1M1181 901.5h1M1182 902.5h1M1183 903.5h2M1185 904.5h1M1186 905.5h1M1187 906.5h1M1188 907.5h1M1189 908.5h2M1191 909.5h1M1192 910.5h1M1193 911.5h2M1195 912.5h1M1196 913.5h2M1198 914.5h2M1200 915.5h3M1203 916.5h2M1205 917.5h2M1207 918.5h2M1209 919.5h3M1212 920.5h2M1214 921.5h5M1219 922.5h7M1226 923.5h8M1234 924.5h5M1239 925.5h4M1243 924.5h4M1247 923.5h4M1251 922.5h2M1253 921.5h1M1254 920.5h2M1256 919.5h2M1258 918.5h2M1260 917.5h1M1261 916.5h1M1262 915.5h1M1263 914.5h1M1264 913.5h1M1265 912.5h1M1266 911.5h1M1267 910.5h1M1268 909.5h1M1269.5 908v1M1269 907.5h1M1270 906.5h1M1271.5 905v1M1271 904.5h1M1272 903.5h1M1273 902.5h1M1274.5 901v1M1274 900.5h1M1275 899.5h1M1276.5 898v1M1276 897.5h1M1277 896.5h1M1278 895.5h1M1279 894.5h1M1280.5 893v1M1280 892.5h1M1281 891.5h1M1282 890.5h1M1283 889.5h1M1284 888.5h1M1285 887.5h1M1286 886.5h1M1287.5 885v1M1287 884.5h1M1288 883.5h1M1289.5 882v1M1289 881.5h1M1290 880.5h1M1291.5 879v1M1291 878.5h1M1292 877.5h1M1293.5 876v1M1293 875.5h1M1294 874.5h1M1295.5 873v1M1295 872.5h2M1297 871.5h2M1299 870.5h2M1301 869.5h3M1304 868.5h3M1307 867.5h4M1311 866.5h5M1316 867.5h4M1320 868.5h4M1324 869.5h3M1327 870.5h3M1330 871.5h3M1333 872.5h3M1336 873.5h3M1339 874.5h3M1342 875.5h3M1345 876.5h3M1348 877.5h4M1352 878.5h3M1355 879.5h3M1358 880.5h1M1359 881.5h1M1360 882.5h1M1361 883.5h1M1362 884.5h1M1363 885.5h1M1364.5 886v1M1364 887.5h1M1365 888.5h1M1366 889.5h1M1367 890.5h1M1368 891.5h1M1369 892.5h2M1371 893.5h1M1372 894.5h1M1373 895.5h2M1375 896.5h1M1376 897.5h2M1378.5 898v1M1378 899.5h1M1379 900.5h1M1380.5 901v1M1380 902.5h1M1381 903.5h1M1382.5 904v1M1382 905.5h1M1383 906.5h1M1384.5 907v1M1384 908.5h1M1385 909.5h1M1386.5 910v1M1386 911.5h3M1389 912.5h5M1394 913.5h4M1398 914.5h3M1401 915.5h3M1404 916.5h6M1410 915.5h12M1422 916.5h1M1423 915.5h1M1424 914.5h2M1426 913.5h1M1427 912.5h2M1429 911.5h2M1431 910.5h3M1434 909.5h5M1439 908.5h2M1441 909.5h5M1446 910.5h9M1455 909.5h4M1459 908.5h2M1461 907.5h1M1462 906.5h1M1463 905.5h2M1465 904.5h1M1466 903.5h1M1467 902.5h2M1469 901.5h1M1470 900.5h2M1472 899.5h1M1473 898.5h2M1475 897.5h1M1476 896.5h10M1486 895.5h1M1487 894.5h1M1488 893.5h1M1489 892.5h1M1490 891.5h1M1491 890.5h2M1493 889.5h1M1494 888.5h1M1495 887.5h1M1496 886.5h1M1497.5 885v1M1497 884.5h1M1498 883.5h1M1499 882.5h1M1500 881.5h1M1501 880.5h1M1502 879.5h1M1503 878.5h1M1504 877.5h2M1506 876.5h1M1507 875.5h2M1509 874.5h2M1511 873.5h1M1512 872.5h1M1513 871.5h1M1514 870.5h1M1515 869.5h1M1516.5 868v1M1516 867.5h1M1517 866.5h1M1518 865.5h1M1519 864.5h1M1520.5 863v1M1520 862.5h1M1521 861.5h2M1523 860.5h2M1525 859.5h3M1528 858.5h2M1530 857.5h2M1532 856.5h2M1534 855.5h1M1535 854.5h2M1537 853.5h1M1538 852.5h2M1540 851.5h2M1542 850.5h1M1543 849.5h2M1545 848.5h1M1546 847.5h2M1548 846.5h4M1552 845.5h15" fill="none" stroke="#800080" stroke-width="1" shape-rendering="crispEdges"/>
<rect x="934" y="16" width="1" height="965" fill="#383838" shape-rendering="crispEdges"/>
<rect x="934" y="945" width="1" height="33" fill="#b030b0" shape-rendering="crispEdges"/>
<text x="5.00" y="14.12" font-family="'Liberation Sans', 'Noto Sans CJK SC', sans-serif" font-size="12" font-weight="normal" fill="#222" textLength="48" lengthAdjust="spacing">凌钢股份</text>
<text x="54.84" y="13.42" font-family="'Liberation Sans', sans-serif" font-size="11.00" font-weight="normal" fill="#222" xml:space="preserve">(</text>
<text x="59.00" y="14.12" font-family="'Liberation Sans', 'Noto Sans CJK SC', sans-serif" font-size="12" font-weight="normal" fill="#222" textLength="24" lengthAdjust="spacing">日线</text>
<text x="82.70" y="13.42" font-family="'Liberation Sans', sans-serif" font-size="11.00" font-weight="normal" fill="#222" xml:space="preserve">)</text>
<circle cx="97" cy="8.9" r="6" fill="#808080"/><polyline points="93.8,7.7 97,10.9 100.2,7.7" fill="none" stroke="#fff" stroke-width="1.3"/>
<text x="107.6" y="13.2" font-family="'Liberation Sans', sans-serif" font-size="12" fill="#333" text-anchor="start" textLength="59" lengthAdjust="spacingAndGlyphs" xml:space="preserve">MA30: 4.72</text>
<text x="182" y="13.2" font-family="'Liberation Sans', sans-serif" font-size="12" fill="#888" text-anchor="start" textLength="66" lengthAdjust="spacingAndGlyphs" xml:space="preserve">MA250: 3.94</text>
<path d="M1543.5 4 L1548.9 9.4 L1543.5 14.8 L1538.1 9.4 Z" fill="none" stroke="#3c3c3c" stroke-width="1"/>
<rect x="1556.6" y="4.4" width="10.8" height="9.9" rx="2.3" fill="none" stroke="#4a4a4a" stroke-width="1.3"/>
<rect x="1563.1" y="6.2" width="2.7" height="6.4" fill="#505050"/>
<text x="1503.8" y="30" font-family="'Liberation Sans', sans-serif" font-size="12" fill="#333" text-anchor="start" textLength="29.2" lengthAdjust="spacingAndGlyphs" xml:space="preserve">10.67</text>
<path d="M1536 24.5 L1554 21.5 M1550 19.4 L1555.8 20.6 M1551.2 24.8 L1554.8 21.8" fill="none" stroke="#333" stroke-width="1" shape-rendering="crispEdges"/>
<path d="M189 709.5 L177 709.5 M181 706.8 L177.3 709.5 L181 712.6" fill="none" stroke="#333" stroke-width="1"/>
<text x="190.6" y="714.9" font-family="'Liberation Sans', sans-serif" font-size="12" fill="#333" text-anchor="start" textLength="22.6" lengthAdjust="spacingAndGlyphs" xml:space="preserve">3.37</text>
<circle cx="10" cy="744.2" r="6" fill="#808080"/><polyline points="6.8,743.0 10,746.2 13.2,743.0" fill="none" stroke="#fff" stroke-width="1.3"/>
<text x="19.8" y="747.6" font-family="'Liberation Sans', sans-serif" font-size="12" fill="#333" text-anchor="start" textLength="81.2" lengthAdjust="spacingAndGlyphs" xml:space="preserve">VOL-TDX(5,10)</text>
<text x="107" y="747.6" font-family="'Liberation Sans', sans-serif" font-size="12" fill="#333" text-anchor="start" textLength="39.5" lengthAdjust="spacingAndGlyphs" xml:space="preserve">VVOL: -</text>
<text x="157.2" y="747.6" font-family="'Liberation Sans', sans-serif" font-size="12" fill="#0b78d8" text-anchor="start" textLength="106.3" lengthAdjust="spacingAndGlyphs" xml:space="preserve">VOLUME: 66194.09</text>
<text x="269.7" y="747.6" font-family="'Liberation Sans', sans-serif" font-size="12" fill="#0b78d8" text-anchor="start" textLength="79.6" lengthAdjust="spacingAndGlyphs" xml:space="preserve">MA5: 85390.13</text>
<text x="355.5" y="747.6" font-family="'Liberation Sans', sans-serif" font-size="12" fill="#800080" text-anchor="start" textLength="87" lengthAdjust="spacingAndGlyphs" xml:space="preserve">MA10: 77208.79</text>
<text x="667.00" y="469.76" font-family="'Liberation Serif', 'Noto Serif CJK SC', serif" font-size="16" font-weight="500" fill="#2e8b2e" textLength="80" lengthAdjust="spacing">缠中说禅：</text>
<text x="747.00 755.00 763.00 771.00 779.00 787.00 795.00 803.00 811.96 819.00 827.00" y="469.76" font-family="'Liberation Serif', serif" font-size="16" font-weight="500" fill="#2e8b2e" xml:space="preserve">600231 4.89</text>
<text x="835.00" y="469.76" font-family="'Liberation Serif', 'Noto Serif CJK SC', serif" font-size="16" font-weight="500" fill="#2e8b2e" textLength="64" lengthAdjust="spacing">短线压力</text>
<text x="667.00" y="490.76" font-family="'Liberation Serif', 'Noto Serif CJK SC', serif" font-size="16" font-weight="500" fill="#2e8b2e" textLength="240" lengthAdjust="spacing">突破前维持箱型，中线问题不大。</text>
<text x="534.00 542.96 550.00 558.00" y="519.26" font-family="'Liberation Serif', serif" font-size="16" font-weight="500" fill="#ff3c3c" xml:space="preserve">4.89</text>
<text x="566.00" y="519.26" font-family="'Liberation Serif', 'Noto Serif CJK SC', serif" font-size="16" font-weight="500" fill="#ff3c3c" textLength="16" lengthAdjust="spacing">元</text>
<polygon points="588.3,521.7 620.4,554.4 621.6,552.2 623.8,561.7 614,558.1 617,557.3" fill="#28d0da"/>
<g shape-rendering="crispEdges">
<rect x="663" y="213" width="149" height="207" fill="#fdfdfd"/>
<rect x="663" y="213" width="149" height="9" fill="#e4e1dc"/>
<rect x="663" y="222" width="149" height="8" fill="#ebe9e6"/>
<rect x="663" y="230" width="149" height="4" fill="#f2f1ee"/>
<rect x="663" y="234" width="149" height="1" fill="#a39e96"/>
<rect x="663" y="234" width="1" height="186" fill="#a39e96"/>
<rect x="664" y="235" width="1" height="184" fill="#dddbd6"/>
<rect x="810" y="235" width="1" height="185" fill="#b4b0a8"/>
<rect x="811" y="234" width="1" height="186" fill="#d0cdc6"/>
<rect x="663" y="419" width="149" height="1" fill="#a8a49c"/>
</g>
<text x="667.50" y="228.62" font-family="'Liberation Sans', 'Noto Sans CJK SC', sans-serif" font-size="12" font-weight="bold" fill="#111" textLength="48" lengthAdjust="spacing">凌钢股份</text>
<path d="M797 218 L808 229.2 M808 218 L797 229.2" stroke="#909090" stroke-width="1" fill="none"/>
<text x="677.60" y="249.82" font-family="'Liberation Sans', 'Noto Sans CJK SC', sans-serif" font-size="12" font-weight="normal" fill="#222" textLength="24" lengthAdjust="spacing">时间</text>
<text x="731.54 737.54 743.54 749.54 757.07 761.54 767.54 775.07 779.54 785.54 793.07" y="249.12" font-family="'Liberation Sans', sans-serif" font-size="11.00" font-weight="normal" fill="#222" xml:space="preserve">2006/12/22/</text>
<text x="797.60" y="249.82" font-family="'Liberation Sans', 'Noto Sans CJK SC', sans-serif" font-size="12" font-weight="normal" fill="#222" textLength="12" lengthAdjust="spacing">五</text>
<text x="677.60" y="264.82" font-family="'Liberation Sans', 'Noto Sans CJK SC', sans-serif" font-size="12" font-weight="normal" fill="#222" textLength="24" lengthAdjust="spacing">数值</text>
<text x="773.54 779.54 787.07 791.54 797.54 803.54" y="264.12" font-family="'Liberation Sans', sans-serif" font-size="11.00" font-weight="normal" fill="#222" xml:space="preserve">10.659</text>
<text x="665.60" y="279.82" font-family="'Liberation Sans', 'Noto Sans CJK SC', sans-serif" font-size="12" font-weight="normal" fill="#222" textLength="36" lengthAdjust="spacing">开盘价</text>
<text x="737.54 745.07 749.54 755.54 762.77 768.77 773.54 781.07 785.54 791.54" y="279.12" font-family="'Liberation Sans', sans-serif" font-size="11.00" font-weight="normal" fill="#2e962e" xml:space="preserve">4.82(-0.41</text>
<text x="797.80" y="279.12" font-family="'Liberation Sans', sans-serif" font-size="11.00" fill="#2e962e" textLength="5.60" lengthAdjust="spacingAndGlyphs">%</text>
<text x="804.77" y="279.12" font-family="'Liberation Sans', sans-serif" font-size="11.00" font-weight="normal" fill="#2e962e" xml:space="preserve">)</text>
<text x="665.60" y="294.82" font-family="'Liberation Sans', 'Noto Sans CJK SC', sans-serif" font-size="12" font-weight="normal" fill="#222" textLength="36" lengthAdjust="spacing">最高价</text>
<text x="785.54 793.07 797.54 803.54" y="294.12" font-family="'Liberation Sans', sans-serif" font-size="11.00" font-weight="normal" fill="#ff3c3c" xml:space="preserve">4.87</text>
<text x="665.60" y="309.82" font-family="'Liberation Sans', 'Noto Sans CJK SC', sans-serif" font-size="12" font-weight="normal" fill="#222" textLength="36" lengthAdjust="spacing">最低价</text>
<text x="785.54 793.07 797.54 803.54" y="309.12" font-family="'Liberation Sans', sans-serif" font-size="11.00" font-weight="normal" fill="#2e962e" xml:space="preserve">4.74</text>
<text x="665.60" y="324.82" font-family="'Liberation Sans', 'Noto Sans CJK SC', sans-serif" font-size="12" font-weight="normal" fill="#222" textLength="36" lengthAdjust="spacing">收盘价</text>
<text x="785.54 793.07 797.54 803.54" y="324.12" font-family="'Liberation Sans', sans-serif" font-size="11.00" font-weight="normal" fill="#2e962e" xml:space="preserve">4.80</text>
<text x="665.60" y="339.82" font-family="'Liberation Sans', 'Noto Sans CJK SC', sans-serif" font-size="12" font-weight="normal" fill="#222" textLength="36" lengthAdjust="spacing">成交量</text>
<text x="779.54 785.54 791.54 797.54 803.54" y="339.12" font-family="'Liberation Sans', sans-serif" font-size="11.00" font-weight="normal" fill="#444" xml:space="preserve">66194</text>
<text x="665.60" y="354.82" font-family="'Liberation Sans', 'Noto Sans CJK SC', sans-serif" font-size="12" font-weight="normal" fill="#222" textLength="36" lengthAdjust="spacing">成交额</text>
<text x="773.54 779.54 785.54 791.54" y="354.12" font-family="'Liberation Sans', sans-serif" font-size="11.00" font-weight="normal" fill="#222" xml:space="preserve">3173</text>
<text x="797.60" y="354.82" font-family="'Liberation Sans', 'Noto Sans CJK SC', sans-serif" font-size="12" font-weight="normal" fill="#222" textLength="12" lengthAdjust="spacing">万</text>
<text x="677.60" y="369.82" font-family="'Liberation Sans', 'Noto Sans CJK SC', sans-serif" font-size="12" font-weight="normal" fill="#222" textLength="24" lengthAdjust="spacing">涨幅</text>
<text x="732.77 737.54 745.07 749.54 755.54 762.77 768.77 773.54 781.07 785.54 791.54" y="369.12" font-family="'Liberation Sans', sans-serif" font-size="11.00" font-weight="normal" fill="#2e962e" xml:space="preserve">-0.04(-0.83</text>
<text x="797.80" y="369.12" font-family="'Liberation Sans', sans-serif" font-size="11.00" fill="#2e962e" textLength="5.60" lengthAdjust="spacingAndGlyphs">%</text>
<text x="804.77" y="369.12" font-family="'Liberation Sans', sans-serif" font-size="11.00" font-weight="normal" fill="#2e962e" xml:space="preserve">)</text>
<text x="677.60" y="384.82" font-family="'Liberation Sans', 'Noto Sans CJK SC', sans-serif" font-size="12" font-weight="normal" fill="#222" textLength="24" lengthAdjust="spacing">振幅</text>
<text x="743.54 751.07 755.54 761.54 768.77 773.54 781.07 785.54 791.54" y="384.12" font-family="'Liberation Sans', sans-serif" font-size="11.00" font-weight="normal" fill="#222" xml:space="preserve">0.13(2.69</text>
<text x="797.80" y="384.12" font-family="'Liberation Sans', sans-serif" font-size="11.00" fill="#222" textLength="5.60" lengthAdjust="spacingAndGlyphs">%</text>
<text x="804.77" y="384.12" font-family="'Liberation Sans', sans-serif" font-size="11.00" font-weight="normal" fill="#222" xml:space="preserve">)</text>
<text x="665.60" y="399.82" font-family="'Liberation Sans', 'Noto Sans CJK SC', sans-serif" font-size="12" font-weight="normal" fill="#222" textLength="36" lengthAdjust="spacing">换手率</text>
<text x="779.54 787.07 791.54 797.54" y="399.12" font-family="'Liberation Sans', sans-serif" font-size="11.00" font-weight="normal" fill="#222" xml:space="preserve">2.35</text>
<text x="803.80" y="399.12" font-family="'Liberation Sans', sans-serif" font-size="11.00" fill="#222" textLength="5.60" lengthAdjust="spacingAndGlyphs">%</text>
<text x="665.60" y="414.82" font-family="'Liberation Sans', 'Noto Sans CJK SC', sans-serif" font-size="12" font-weight="normal" fill="#222" textLength="36" lengthAdjust="spacing">流通股</text>
<text x="773.54 781.07 785.54 791.54" y="414.12" font-family="'Liberation Sans', sans-serif" font-size="11.00" font-weight="normal" fill="#222" xml:space="preserve">2.82</text>
<text x="797.60" y="414.82" font-family="'Liberation Sans', 'Noto Sans CJK SC', sans-serif" font-size="12" font-weight="normal" fill="#222" textLength="12" lengthAdjust="spacing">亿</text>
<g shape-rendering="crispEdges" fill="#c0c0c0">
<rect x="50" y="982" width="1" height="15"/>
<rect x="257" y="982" width="1" height="15"/>
<rect x="447" y="982" width="1" height="15"/>
<rect x="600" y="982" width="1" height="15"/>
<rect x="798" y="982" width="1" height="15"/>
<rect x="1159" y="982" width="1" height="15"/>
<rect x="1295" y="982" width="1" height="15"/>
<rect x="1493" y="982" width="1" height="15"/>
<rect x="1571" y="982" width="1" height="15"/>
<rect x="102" y="982" width="1" height="2"/>
<rect x="154" y="982" width="1" height="2"/>
<rect x="205" y="982" width="1" height="2"/>
<rect x="305" y="982" width="1" height="2"/>
<rect x="353" y="982" width="1" height="2"/>
<rect x="401" y="982" width="1" height="2"/>
<rect x="485" y="982" width="1" height="2"/>
<rect x="524" y="982" width="1" height="2"/>
<rect x="562" y="982" width="1" height="2"/>
<rect x="650" y="982" width="1" height="2"/>
<rect x="699" y="982" width="1" height="2"/>
<rect x="749" y="982" width="1" height="2"/>
<rect x="843" y="982" width="1" height="2"/>
<rect x="889" y="982" width="1" height="2"/>
<rect x="1024" y="982" width="1" height="2"/>
<rect x="1069" y="982" width="1" height="2"/>
<rect x="1114" y="982" width="1" height="2"/>
<rect x="1193" y="982" width="1" height="2"/>
<rect x="1226" y="982" width="1" height="2"/>
<rect x="1344" y="982" width="1" height="2"/>
<rect x="1395" y="982" width="1" height="2"/>
<rect x="1443" y="982" width="1" height="2"/>
<rect x="1539" y="982" width="1" height="2"/>
<rect x="32" y="998" width="1" height="1"/>
<rect x="62" y="998" width="1" height="1"/>
<rect x="93" y="998" width="1" height="1"/>
<rect x="137" y="998" width="1" height="1"/>
<rect x="181" y="998" width="1" height="1"/>
<rect x="247" y="998" width="1" height="1"/>
<rect x="305" y="998" width="1" height="1"/>
<rect x="466" y="998" width="1" height="1"/>
<rect x="687" y="998" width="1" height="1"/>
<rect x="905" y="998" width="1" height="1"/>
<rect x="1238" y="998" width="1" height="1"/>
<rect x="1487" y="998" width="1" height="1"/>
<rect x="1571" y="998" width="1" height="1"/>
<rect x="1596" y="998" width="1" height="1"/>
</g>
<text x="6.5" y="994" font-family="'Liberation Sans', sans-serif" font-size="12" fill="#808080" text-anchor="start" textLength="27" lengthAdjust="spacingAndGlyphs" xml:space="preserve">2006</text>
<text x="33.5" y="995.2" font-family="'Liberation Sans', 'Noto Sans CJK SC', sans-serif" font-size="12" fill="#808080">年</text>
<text x="51.5" y="994" font-family="'Liberation Sans', sans-serif" font-size="12" fill="#808080" text-anchor="start" xml:space="preserve">8</text>
<text x="258.5" y="994" font-family="'Liberation Sans', sans-serif" font-size="12" fill="#808080" text-anchor="start" xml:space="preserve">9</text>
<text x="449" y="994" font-family="'Liberation Sans', sans-serif" font-size="12" fill="#808080" text-anchor="start" xml:space="preserve">10</text>
<text x="601.5" y="994" font-family="'Liberation Sans', sans-serif" font-size="12" fill="#808080" text-anchor="start" xml:space="preserve">11</text>
<text x="799.5" y="994" font-family="'Liberation Sans', sans-serif" font-size="12" fill="#808080" text-anchor="start" xml:space="preserve">12</text>
<text x="1160.5" y="994" font-family="'Liberation Sans', sans-serif" font-size="12" fill="#808080" text-anchor="start" xml:space="preserve">2</text>
<text x="1296.5" y="994" font-family="'Liberation Sans', sans-serif" font-size="12" fill="#808080" text-anchor="start" xml:space="preserve">3</text>
<text x="1494.5" y="994" font-family="'Liberation Sans', sans-serif" font-size="12" fill="#808080" text-anchor="start" xml:space="preserve">4</text>
<rect x="935" y="982" width="78" height="15" fill="#b4ecf2" shape-rendering="crispEdges"/>
<text x="936.5" y="994" font-family="'Liberation Sans', sans-serif" font-size="12" fill="#222" text-anchor="start" textLength="63" lengthAdjust="spacingAndGlyphs" xml:space="preserve">2006/12/22/</text>
<text x="999.5" y="994" font-family="'Liberation Sans', 'Noto Sans CJK SC', sans-serif" font-size="12" fill="#222">五</text>
<text x="1583.4" y="994.4" font-family="'Liberation Sans', 'Noto Sans CJK SC', sans-serif" font-size="12" fill="#333" textLength="23.5">日线</text>
<rect x="1572.5" y="966.5" width="25" height="14" fill="#fdfdfd" stroke="#c0c0c0" shape-rendering="crispEdges"/>
<text x="1574" y="978" font-family="'Liberation Sans', sans-serif" font-size="12" fill="#909090" text-anchor="start" textLength="20.2" lengthAdjust="spacingAndGlyphs" xml:space="preserve">X10</text>
</svg>
</body></html>
